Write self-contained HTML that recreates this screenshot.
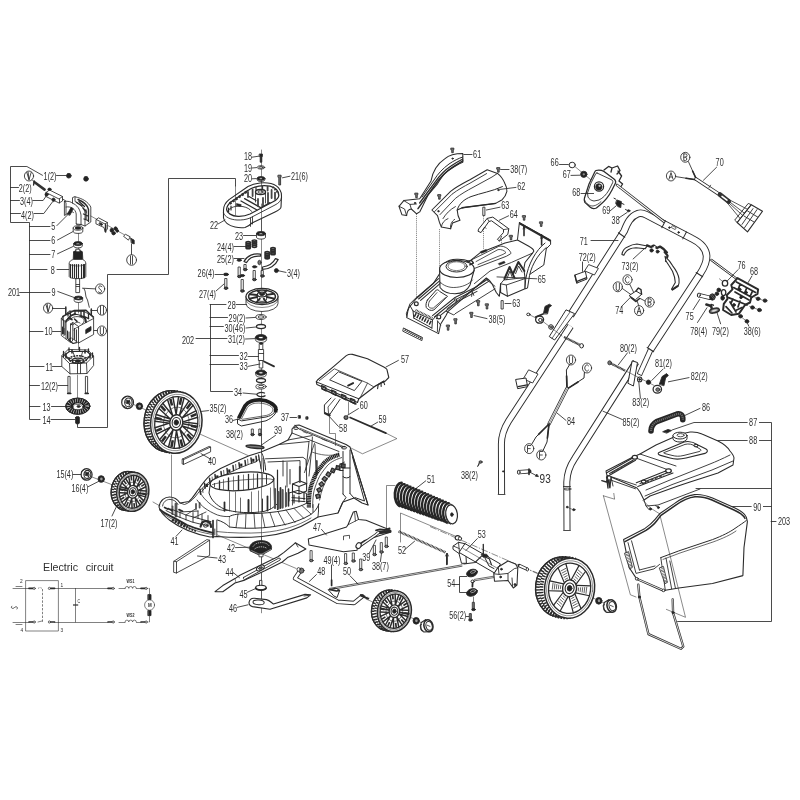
<!DOCTYPE html>
<html><head><meta charset="utf-8"><title>Exploded view</title>
<style>
html,body{margin:0;padding:0;background:#fff;}
body{width:800px;height:800px;overflow:hidden;font-family:"Liberation Sans",sans-serif;}
svg{display:block}
svg *{vector-effect:none}
.d{stroke:#2b2b2b;stroke-width:.85;fill:none;stroke-linecap:round;stroke-linejoin:round}
.d text{stroke:none;fill:#2e2e2e;font-family:"Liberation Sans",sans-serif}
.w{fill:#fff}
.k{fill:#222}
.g{fill:#777}
.t{stroke-width:.55}
.b{stroke-width:1.3}
.dash{stroke-width:.6;stroke:#3a3a3a}
[stroke-dasharray]{stroke-linecap:butt}
</style></head><body>
<svg width="800" height="800" viewBox="0 0 800 800">
<rect width="800" height="800" fill="#fff"/>
<g class="d" opacity=".999">
<!-- p_a_motor -->
<polyline points="42.5 175.3 26.9 166.5 10.5 166.5 10.5 222.5 29.5 222.5 29.5 419.5 40 419.5"/><polyline points="10.4 187.5 18.5 187.5"/><polyline points="10.4 200.5 19.5 200.5"/><polyline points="10.4 213.5 20.5 213.5"/><polyline points="32.8 200.5 43.1 200.5 46.9 195"/><polyline points="34 213.5 43.8 213.5 52.5 201.9"/><polyline points="29.4 226.5 50 226.5"/><polyline points="29.4 240.5 50 240.5"/><polyline points="29.4 254.5 50 254.5"/><polyline points="29.4 269.5 47 269.5"/><polyline points="29.4 292.5 50 292.5"/><polyline points="29.4 331.5 43 331.5"/><polyline points="29.4 366.5 44 366.5"/><polyline points="29.4 385.5 39.5 385.5"/><polyline points="29.4 406.5 40 406.5"/><polyline points="19.6 292.5 29.4 292.5"/><text transform="translate(43.6 180) scale(0.66 1)" font-size="11">1(2)</text><text transform="translate(18.8 192) scale(0.66 1)" font-size="11">2(2)</text><text transform="translate(20 205) scale(0.66 1)" font-size="11">3(4)</text><text transform="translate(21 218.6) scale(0.66 1)" font-size="11">4(2)</text><text transform="translate(51.3 230) scale(0.66 1)" font-size="11">5</text><text transform="translate(51.3 244.4) scale(0.66 1)" font-size="11">6</text><text transform="translate(51.3 258.2) scale(0.66 1)" font-size="11">7</text><text transform="translate(50.8 273.6) scale(0.66 1)" font-size="11">8</text><text transform="translate(51.6 295.6) scale(0.66 1)" font-size="11">9</text><text transform="translate(8 295.6) scale(0.66 1)" font-size="11">201</text><text transform="translate(44.4 335.4) scale(0.66 1)" font-size="11">10</text><text transform="translate(45.6 370.8) scale(0.66 1)" font-size="11">11</text><text transform="translate(41 390.4) scale(0.66 1)" font-size="11">12(2)</text><text transform="translate(42.4 410.8) scale(0.66 1)" font-size="11">13</text><text transform="translate(42.4 424) scale(0.66 1)" font-size="11">14</text><polyline points="56.5 175.5 67 175.5"/><polyline points="56.9 225.6 70 212.5"/><polyline points="57.5 240 73.5 231.3"/><polyline points="57.5 253.8 73.5 246.3"/><polyline points="57 269.5 69 269.5"/><polyline points="57.8 291.5 74.4 297.6"/><polyline points="52.5 331.5 61.3 331.5"/><polyline points="52.5 366.5 62 366.5"/><polyline points="58 385.5 68 385.5"/><polyline points="51.5 406.5 66 406.5"/><polyline points="51 419.5 75 419.5"/><ellipse cx="68.8" cy="175.8" rx="2.3" ry="2.3" class="k"/><ellipse cx="86" cy="178.9" rx="2.3" ry="2.3" class="k"/><polyline points="67.6 173.8 70 173.8"/><polyline points="84.8 176.9 87.2 176.9"/><ellipse cx="29" cy="176" rx="4.6" ry="4.97" fill="#fff"/><polyline points="26.8 172.4 29 179.8 31.2 172.4"/><polyline points="28.1 172.1 29 179.4"/><polyline points="32.5 180 35.6 183.6"/><path d="M34.6 182.2 L44.6 189.6" stroke-width="2.6" stroke="#333"/><path d="M34.2 181 L33.6 185" stroke-width="1.4"/><polygon points="46 192.5 49.5 190 62.5 196.5 62.5 201 59 203 46 196.5" class="w"/><polyline points="46 192.5 59 199 62.5 196.5"/><polyline points="59.5 199 59.5 203"/><ellipse cx="49.5" cy="189.3" rx="1.6" ry="1.2" class="k"/><ellipse cx="46.6" cy="194.5" rx="1.6" ry="1.6" class="k"/><ellipse cx="53.5" cy="199.8" rx="1.5" ry="1.8" class="k"/><polyline points="62.5 199 66 201"/><path d="M64.4 201.5 L64.4 215.5 L66 214.5 L66 203 Z"/><path d="M72.5 198 L72.5 203.2 C77 205 80 209 81 215 L81 224.5 L85 226 L90.8 222 L90.8 207 C88 202 83 198.5 75 196.8 Z" class="w"/><path d="M64.4 201.5 C68 200.8 71 201.6 72.5 203.2"/><path d="M66 207 C71 206 75.5 209 76.2 214 L76.2 224 L81 224.5"/><path d="M66 214.5 C69 212 71.5 210.5 73.5 212.5"/><path d="M76.2 224 C77.5 225.3 79.8 225.3 81 224.5"/><path d="M75 196.8 L75 201.5 C80 203.5 84.5 208 85 213 L85 226"/><path d="M78 199.5 C83 201.5 87.5 205 88.5 209.5 L88.5 221.5" stroke-width="1.4"/><path d="M76.5 202.5 L82 206 M79 201.5 L84.5 206.5 M83 208 L86.5 212 M86 210 L86 219 M83.5 214 L88 216 M84 219 L88 220.5" stroke-width="1.3"/><path d="M67.5 214 L71 207.5 L73.2 208.8 L70 215 Z" class="k"/><polyline points="90.8 216 133.8 240" class="t"/><polygon points="96.3 219.5 98.5 217.8 107.4 222.5 107.4 229 105 231.5 104 227.5 96.3 224" class="w"/><polyline points="96.3 219.5 105 224 107.4 222.5"/><polyline points="105.5 224 105.5 231.5"/><rect x="99.5" y="223.4" width="3" height="1.4" class="k" transform="rotate(28 101 224)"/><path d="M105.6 225 L105.6 232" stroke-width="1.6"/><ellipse cx="111.8" cy="230.3" rx="1.7" ry="2" class="k"/><ellipse cx="115.6" cy="228.6" rx="1.6" ry="1.8" class="k"/><ellipse cx="113.6" cy="233.2" rx="1.7" ry="1.7" class="k"/><ellipse cx="117.2" cy="230.8" rx="1.3" ry="1.5" class="k"/><polygon points="123.8 236 125.5 234.3 130.2 236.8 128.6 239.8" class="w"/><path d="M131 238.5 L134.2 240.3 L134.2 244 L131.6 243 Z" class="k"/><polyline points="131.5 244 131.5 255"/><ellipse cx="131.6" cy="260" rx="4.9" ry="5.29" fill="#fff"/><polyline points="130.5 256 130.5 264"/><polyline points="132.5 256 132.5 264"/><path d="M73.2 228 L73.2 231.2 A4.8 2.2 0 0 0 82.8 231.2 L82.8 228" class="w"/><ellipse cx="78" cy="228" rx="4.8" ry="2.2" class="w"/><ellipse cx="78" cy="228" rx="3" ry="1.2" class="k"/><path d="M73.7 243.6 L73.7 246 A4.3 2 0 0 0 82.3 246 L82.3 243.6" class="w"/><ellipse cx="78" cy="243.6" rx="4.3" ry="2" class="k"/><ellipse cx="78" cy="243.9" rx="2" ry="0.8" class="w"/><polyline points="78.5 233.6 78.5 241.5" class="t"/><polyline points="78.5 248 78.5 251" class="t"/><path d="M73.6 252 L73.2 259.5 L82.8 259.5 L82.4 252 A4.4 1.5 0 0 0 73.6 252 Z" class="k"/><rect x="76.2" y="249.2" width="3.6" height="2.6" class="w"/><path d="M73.2 259.5 C69.5 260.5 69.2 262.5 69.2 264 L69.2 276.5 A8.3 2.2 0 0 0 85.8 276.5 L85.8 264 C85.8 262.5 85.5 260.5 82.8 259.5 Z" class="w"/><polyline points="70.5 264.5 70.5 277.6" stroke-width="1.1"/><polyline points="72.5 264.5 72.5 277.6" stroke-width="1.1"/><polyline points="74.5 264.5 74.5 277.6" stroke-width="1.1"/><polyline points="76.5 264.5 76.5 278.5" stroke-width="1.1"/><polyline points="78.5 264.5 78.5 278.5" stroke-width="1.1"/><polyline points="81.5 264.5 81.5 278.5" stroke-width="1.1"/><polyline points="83.5 264.5 83.5 277.6" stroke-width="1.1"/><polyline points="84.5 264.5 84.5 277.6" stroke-width="1.1"/><path d="M69.2 264 A8.3 2 0 0 0 85.8 264" class="t"/><rect x="76.2" y="278.6" width="3.4" height="14" class="w"/><polyline points="76.2 284.5 79.6 284.5"/><polyline points="76.2 286.5 79.6 286.5"/><ellipse cx="100.1" cy="288.9" rx="4.6" ry="4.97" fill="#fff"/><path d="M101.9 286.7 c-3 -2.5 -4.5 1 -1.8 2.6 c2.8 1.6 1.2 5 -1.8 2.6"/><polyline points="95.5 288.9 82.5 288.2"/><path d="M84 288.5 C86.5 292 84.5 296 87.5 300 L89.3 307.3"/><path d="M74.2 298 L74.2 300.6 A4.2 1.9 0 0 0 82.6 300.6 L82.6 298" class="w"/><ellipse cx="78.4" cy="298" rx="4.2" ry="1.9" class="k"/><ellipse cx="78.4" cy="298.2" rx="2" ry="0.8" class="w"/><ellipse cx="48.1" cy="308.1" rx="4.6" ry="4.97" fill="#fff"/><polyline points="45.9 304.5 48.1 311.9 50.3 304.5"/><polyline points="47.2 304.2 48.1 311.5"/><polyline points="52.7 308.5 65.8 308.5"/><path d="M65.8 307 L65.8 314" stroke-width="1.5"/><ellipse cx="101.9" cy="310.2" rx="4.6" ry="4.97" fill="#fff"/><polyline points="100.5 306.2 100.5 314.2"/><polyline points="103.5 306.2 103.5 314.2"/><polyline points="97.3 310.5 91 310.5"/><path d="M91.3 309 L91.3 316" stroke-width="1.5"/><ellipse cx="101.9" cy="330.9" rx="4.6" ry="4.97" fill="#fff"/><path d="M100.3 327.5 v5.5 a1.6 1.6 0 0 0 3.2 0 v-5.5"/><polyline points="97.3 330.5 92.8 330.5"/><path d="M61.3 318.5 L61.3 335.5 L70.5 342.5 L72.5 341 L72.5 338.5 L78.5 343 L93.6 334.5 L93.6 316.5 L84 311.5 L70 311 Z" class="w"/><path d="M61.3 318.5 L66 322 L66 338.8 M66 322 L70.5 319 M70.5 324 L70.5 341.5 M70.5 324 L72.8 322.5 M72.8 338.5 L72.8 322.5 L78.5 326.5 L78.5 343 M78.5 326.5 L93.6 318.5"/><path d="M66 322 C67 317 72 314 77 314.5 C83 315 87 318.5 86 322.5" stroke-width="1.2"/><path d="M70.5 319.5 C72 316.5 78 315.5 82.5 318 C85 319.5 84.5 322.5 82 324"/><path d="M63 316.5 L63 320 M68 312.5 L68 316 M88.5 314 L88.5 318 M75 311 L75 314.5 M81 311.5 L81 315" stroke-width="1.3"/><path d="M72.8 325 C75 322 78 321.5 80 323 M74 330 C76 327 78 327 78.5 328"/><path d="M86 329.5 L91 326.5 L91 330.5 L86 333.5 Z" class="k"/><path d="M62.5 327 L62.5 334 M64 328.5 L64 335.5 M67.5 331 L67.5 338.5 M69 332 L69 339.5" stroke-width="1"/><path d="M71 338 L68.5 339.8 L73 343.5 L76.5 342.6" stroke-width="1.2"/><path d="M63 316.4 L74 310.6 L86 310.2 L93 317 M66 320.6 L70 317.6 L72 319.6 M70 311.6 L70.6 316 L75 313.6 M84 311.5 L84 316.4 L88.6 318.6 M80 316 C84 316.6 86 319 85.6 322 M74.5 319 L77 321.4" stroke-width="1.5"/><path d="M63.4 320.4 L63.4 333.6 M65 321.6 L65 334.6 M70.8 325 L72.4 324 M74.4 328.4 L74.4 339.4 M76.4 329.8 L76.4 341" stroke-width="1"/><polyline points="78.5 302.6 78.5 313" class="t"/><polyline points="78.5 343.5 78.5 352" class="t"/><path d="M61.8 356 L61.8 366.5 L70 373.8 L87 373.5 L93.6 365.5 L93.6 356 L88 350 L68.5 349.5 Z" class="w"/><path d="M61.8 356 L69.5 363.5 L86.5 363 L93.6 356 M69.5 363.5 L70 373.8 M86.5 363 L87 373.5"/><path d="M64.5 355 L70 360.5 L86 360 L91 355 L87 351.5 L69.5 351.5 Z" stroke-width="1.2"/><ellipse cx="77.8" cy="360.8" rx="5.6" ry="2.6" stroke-width="1.3"/><ellipse cx="77.8" cy="361" rx="2.6" ry="1.2" class="k"/><path d="M67 357 L72 359 M83.5 359 L89 356.5 M73 352 L75 357.5 M82.5 352 L81 357.5"/><path d="M63.5 351.5 L63.5 357 M69 348 L69 351 M79.5 347.5 L79.5 351 M88.5 349 L88.5 352 M92.5 353 L92.5 357" stroke-width="1.3"/><polyline points="77.5 364 77.5 373.5"/><polyline points="80.5 364 80.5 373.5"/><ellipse cx="77.8" cy="359.4" rx="8.6" ry="3.6" stroke-width="1.5" stroke-dasharray="2 0.8"/><path d="M66 353.6 L66 358 M90 353.6 L90 358 M72 350 L72 353 M85 350 L85 353" stroke-width="1.6"/><rect x="68.3" y="376.4" width="1.8" height="16.6" class="w"/><path d="M67.6 393.4 h3.2" stroke-width="1.5"/><rect x="85.8" y="376.4" width="1.8" height="16.6" class="w"/><path d="M85.1 393.4 h3.2" stroke-width="1.5"/><polyline points="77.5 375 77.5 398" class="t"/><ellipse cx="77.8" cy="406.2" rx="12.2" ry="8.2" class="k"/><ellipse cx="77.8" cy="406.2" rx="9.4" ry="6" stroke="#e8e8e8" stroke-width="4.2" stroke-dasharray="0.55 1.7" fill="none"/><ellipse cx="77.8" cy="406.2" rx="12" ry="8" stroke="#222" stroke-width="0.9" fill="none"/><ellipse cx="78" cy="407" rx="5" ry="2.8" class="w" stroke-width="0.8"/><ellipse cx="78.6" cy="406.4" rx="1.6" ry="1" class="k"/><path d="M73.6 405.6 A4.6 2.6 0 0 1 82.6 405.6" stroke="#fff" stroke-width="0.7"/><path d="M75.6 417.4 L75.6 423 A1.9 0.9 0 0 0 79.4 423 L79.4 417.4 A1.9 0.9 0 0 0 75.6 417.4 Z" class="k"/><polyline points="77.5 424 77.5 427.5 107.5 427.5 107.5 274.5 168.5 274.5 168.5 178.5 235.5 178.5 235.5 186"/>
<!-- p_b_gear -->
<polyline points="261.5 150 261.5 600" class="t dash"/><text transform="translate(244 160.4) scale(0.66 1)" font-size="11">18</text><polyline points="252 157.2 258.6 156.2"/><path d="M259.6 154 h2.8 v2.6 h-0.6 v5.6 h-1.6 v-5.6 h-0.6 Z" class="k"/><text transform="translate(244 172) scale(0.66 1)" font-size="11">19</text><polyline points="252 168 256.5 167.6"/><ellipse cx="261" cy="167.4" rx="3.8" ry="1.7" class="w"/><ellipse cx="261" cy="167.4" rx="2.09" ry="0.85"/><text transform="translate(244 182.4) scale(0.66 1)" font-size="11">20</text><polyline points="252 178.8 256 178.6"/><path d="M257.1 178.4 v1.2 a3.9 1.9 0 0 0 7.8 0 v-1.2" class="w"/><ellipse cx="261" cy="178.4" rx="3.9" ry="1.9" class="k"/><ellipse cx="261" cy="178.6" rx="1.75" ry="0.8" class="w"/><text transform="translate(291 180) scale(0.66 1)" font-size="11">21(6)</text><polyline points="290 176.2 282.5 177.8"/><path d="M278.3 175.2 h2.8 v2 h-0.5 v7.8 h-1.8 v-7.8 h-0.5 Z" class="g"/><path d="M223.5 210 L223.5 218 C224.5 222.5 229 225.6 235 227 C238.5 227.8 242 228 245 227.5 C248 226.6 250 225 252 223 L275 212 C279 210 281 208.6 281 207 L281.5 196 C281.6 193.5 281 191.6 280 190 C278 186.4 275 184.4 271 183.5 C267.6 182.8 264 182.6 260 183 C255 183.6 251.6 184.6 248 186.5 L229 199.6 C225.4 202.6 223.5 206 223.5 210 Z" class="w" stroke-width="1.1"/><path d="M223.5 213 C225 217 230 219.6 237 220 C242 220.2 246 219.6 250 218 L275 205 C279 203 281 200.6 281.5 198" stroke-width="0.9"/><path d="M226.6 209.6 C227 213 231.6 216 238 216.4 C243 216.6 246.6 215.6 250 214 L272.6 202 C277 199.6 278.8 197.6 278.8 195.4 C278.6 191 275 187.4 270 186.2 C265 185.2 259 185.6 254 187.4 C251.6 188.2 249.6 189.2 248 190.4 L231.6 201.6 C228.4 204 226.6 206.6 226.6 209.6 Z" stroke-width="1.3"/><polyline points="250.5 218 250.5 226.4"/><polyline points="252.5 216.8 252.5 224"/><path d="M241 201 L257 210 M244.6 198.6 L260.6 207.6" stroke-width="1.3"/><ellipse cx="260.5" cy="192" rx="5" ry="2.5" class="w" stroke-width="1.4"/><ellipse cx="260.5" cy="192" rx="2.6" ry="1.2" stroke-width="0.9"/><polyline points="255.5 192 255.5 202"/><polyline points="265.5 192 265.5 203"/><path d="M252.6 189.6 L252.6 196 M258 199 L258 206 M263 198 L263 205.6 M268 193 L268 203 M271.6 190 L271.6 198 M275 192.6 L275 199 M248 192 L248 197 M267.6 186.6 L267.6 190.6" stroke="#444" stroke-width="1.8"/><path d="M249 196.6 L256 200.6 M262 207 L270 202.6 M256 187.6 L256 190 M262.6 186.4 L262.6 189.6" stroke-width="1.1"/><path d="M229.6 203.6 L247 191.4" stroke="#333" stroke-width="2.6" stroke-dasharray="2.2 1.5"/><path d="M272.6 187 L278 192.6" stroke="#333" stroke-width="2" stroke-dasharray="1.6 1.2"/><path d="M228 211 C230 207 236 205.4 243 206.6 C247 207.4 250 209 251.6 211.4" stroke-width="0.9"/><path d="M236.6 203.6 l4.6 1 l-0.4 2 l-4.6 -1 Z" class="k" stroke-width="0.6"/><path d="M231 206 L231 210 M228.6 208 L228.6 212" stroke-width="1.2"/><polyline points="235.5 186 235.5 215" class="t"/><polyline points="261.5 180 261.5 192" class="t"/><polyline points="261.5 204 261.5 231" class="t"/><text transform="translate(210 229) scale(0.66 1)" font-size="11">22</text><polyline points="218 224 225 220"/><text transform="translate(235 239.6) scale(0.66 1)" font-size="11">23</text><polyline points="243.5 235.5 256 235.5"/><path d="M256.5 233.6 v3.4 a4.5 2.1 0 0 0 9 0 v-3.4" class="w"/><ellipse cx="261" cy="233.6" rx="4.5" ry="2.1" class="k"/><ellipse cx="261" cy="233.8" rx="2.02" ry="0.88" class="w"/><text transform="translate(217 251) scale(0.66 1)" font-size="11">24(4)</text><polyline points="234 246.5 246 246.5"/><ellipse cx="248.2" cy="242.5" rx="2.2" ry="1.1" stroke-width="1.55"/><ellipse cx="248.2" cy="244.25" rx="2.2" ry="1.1" stroke-width="1.55"/><ellipse cx="248.2" cy="246" rx="2.2" ry="1.1" stroke-width="1.55"/><ellipse cx="248.2" cy="247.75" rx="2.2" ry="1.1" stroke-width="1.55"/><ellipse cx="254.4" cy="241.1" rx="2.2" ry="1.1" stroke-width="1.55"/><ellipse cx="254.4" cy="242.85" rx="2.2" ry="1.1" stroke-width="1.55"/><ellipse cx="254.4" cy="244.6" rx="2.2" ry="1.1" stroke-width="1.55"/><ellipse cx="254.4" cy="246.35" rx="2.2" ry="1.1" stroke-width="1.55"/><ellipse cx="267.2" cy="252.5" rx="2.2" ry="1.1" stroke-width="1.55"/><ellipse cx="267.2" cy="254.25" rx="2.2" ry="1.1" stroke-width="1.55"/><ellipse cx="267.2" cy="256" rx="2.2" ry="1.1" stroke-width="1.55"/><ellipse cx="267.2" cy="257.75" rx="2.2" ry="1.1" stroke-width="1.55"/><ellipse cx="273" cy="248.5" rx="2.2" ry="1.1" stroke-width="1.55"/><ellipse cx="273" cy="250.25" rx="2.2" ry="1.1" stroke-width="1.55"/><ellipse cx="273" cy="252" rx="2.2" ry="1.1" stroke-width="1.55"/><ellipse cx="273" cy="253.75" rx="2.2" ry="1.1" stroke-width="1.55"/><text transform="translate(217 263) scale(0.66 1)" font-size="11">25(2)</text><polyline points="234 258.5 244 258.5"/><path d="M244 261.5 C247 255.5 254 253 260.5 254.2 L260.5 256.2 C254.5 255.6 249 257.8 246.6 262.6 Z" class="w" stroke-width="1.2"/><path d="M262.5 267 C268 266.5 273 263.5 275.5 258.6 L278.2 259.6 C275.6 265.6 269 269.3 262.5 269.3 Z" class="w" stroke-width="1.2"/><ellipse cx="239.2" cy="260.2" rx="2.2" ry="1.1" class="k"/><ellipse cx="254.6" cy="266.8" rx="2.2" ry="1.1" class="k"/><ellipse cx="259.5" cy="262.5" rx="1.6" ry="2.2" class="g"/><rect x="238.5" y="267" width="1.8" height="9.5" class="w"/><ellipse cx="239.4" cy="276.5" rx="1.8" ry="1.2" fill="#444" stroke-width="1"/><rect x="244.3" y="264.5" width="1.8" height="5.1" class="w"/><ellipse cx="245.2" cy="269.6" rx="1.8" ry="1.2" fill="#444" stroke-width="1"/><rect x="253.5" y="270.5" width="1.8" height="9.1" class="w"/><ellipse cx="254.4" cy="279.6" rx="1.8" ry="1.2" fill="#444" stroke-width="1"/><rect x="261.5" y="270.5" width="1.8" height="5.5" class="w"/><ellipse cx="262.4" cy="276" rx="1.8" ry="1.2" fill="#444" stroke-width="1"/><rect x="225.1" y="278.5" width="1.8" height="9.7" class="w"/><ellipse cx="226" cy="288.2" rx="1.8" ry="1.2" fill="#444" stroke-width="1"/><rect x="241.5" y="279.5" width="1.8" height="11.5" class="w"/><ellipse cx="242.4" cy="291" rx="1.8" ry="1.2" fill="#444" stroke-width="1"/><ellipse cx="242.4" cy="275.6" rx="2.2" ry="1.1" class="k"/><text transform="translate(197.6 277) scale(0.66 1)" font-size="11">26(4)</text><polyline points="215 274.5 223 274.5"/><ellipse cx="226" cy="274.4" rx="2.5" ry="1.3" class="k"/><text transform="translate(287 277) scale(0.66 1)" font-size="11">3(4)</text><polyline points="286 272.4 278.5 270.8"/><ellipse cx="276.4" cy="270.6" rx="2" ry="2" class="k"/><text transform="translate(199 298) scale(0.66 1)" font-size="11">27(4)</text><polyline points="216 291 224 284"/><path d="M246 296.5 L246 303.5 A16 8 0 0 0 278 303.5 L278 296.5" class="w"/><ellipse cx="262" cy="296.5" rx="16" ry="8.2" class="w" stroke-width="1.2"/><ellipse cx="262" cy="296.5" rx="13.4" ry="6.6" stroke-width="1.5"/><path d="M246 299.5 A16 8 0 0 0 278 299.5" class="t"/><ellipse cx="262" cy="294.5" rx="4.6" ry="2.4" class="w" stroke-width="1.2"/><ellipse cx="262" cy="294.5" rx="2.2" ry="1.1" class="k"/><path d="M257.4 294.5 L257.4 299 A4.6 2.4 0 0 0 266.6 299 L266.6 294.5"/><polyline points="266.89 296.96 274.22 298.69" stroke-width="1.9"/><polyline points="263.78 298.63 266.45 302.51" stroke-width="1.9"/><polyline points="259.8 298.54 256.51 302.3" stroke-width="1.9"/><polyline points="257.11 296.96 249.78 298.69" stroke-width="1.9"/><polyline points="257.11 295.04 249.78 294.31" stroke-width="1.9"/><polyline points="260.22 293.37 257.55 290.49" stroke-width="1.9"/><polyline points="263.78 293.37 266.45 290.49" stroke-width="1.9"/><polyline points="266.71 294.82 273.78 293.8" stroke-width="1.9"/><text transform="translate(227.6 309) scale(0.66 1)" font-size="11">28</text><polyline points="210 304.5 226 304.5"/><polyline points="236 304.5 246.5 304.5"/><polyline points="210.5 304.6 210.5 391.5 232.5 391.5"/><polyline points="210 317.5 227.5 317.5"/><polyline points="210 326.5 223.4 326.5"/><polyline points="196 338.5 227 338.5"/><polyline points="210 355.5 238.5 355.5"/><polyline points="210 364.5 238.5 364.5"/><text transform="translate(228.6 321.6) scale(0.66 1)" font-size="11">29(2)</text><polyline points="246 318 255.5 317.4"/><ellipse cx="261" cy="317" rx="5.2" ry="2.5" class="w"/><ellipse cx="261" cy="317" rx="2.86" ry="1.25"/><text transform="translate(224.4 331.6) scale(0.66 1)" font-size="11">30(46)</text><polyline points="246 328 256 327"/><ellipse cx="261" cy="326.6" rx="4.5" ry="2.1" class="w" stroke-width="1.3"/><text transform="translate(182 343.6) scale(0.66 1)" font-size="11">202</text><text transform="translate(228 343) scale(0.66 1)" font-size="11">31(2)</text><polyline points="245.5 339 255 338.6"/><path d="M255.4 337.4 v2.2 a5.6 2.9 0 0 0 11.2 0 v-2.2" class="w"/><ellipse cx="261" cy="337.4" rx="5.6" ry="2.9" class="k"/><ellipse cx="261" cy="337.6" rx="2.52" ry="1.22" class="w"/><rect x="259.6" y="343.5" width="3.2" height="6" class="w"/><rect x="258.8" y="349.5" width="4.8" height="11" class="w"/><rect x="259.6" y="360.5" width="3.2" height="7.5" class="w"/><ellipse cx="261.2" cy="343.6" rx="1.6" ry="0.8" class="k"/><polyline points="258.8 353.5 263.6 353.5"/><text transform="translate(239.6 360.4) scale(0.66 1)" font-size="11">32</text><polyline points="248 356.5 258.4 356.5"/><text transform="translate(239.6 370) scale(0.66 1)" font-size="11">33</text><polyline points="248 366.4 260 364"/><path d="M264 361.5 L274 366.4" stroke-width="1.8"/><path d="M255.7 372.6 v2 a5.3 2.7 0 0 0 10.6 0 v-2" class="w"/><ellipse cx="261" cy="372.6" rx="5.3" ry="2.7" class="k"/><ellipse cx="261" cy="372.8" rx="2.38" ry="1.13" class="w"/><ellipse cx="261" cy="380.6" rx="4.5" ry="2.1" class="w" stroke-width="1.3"/><ellipse cx="261" cy="386.6" rx="5.2" ry="2.5" class="w"/><ellipse cx="261" cy="386.6" rx="2.86" ry="1.25"/><text transform="translate(234 396.4) scale(0.66 1)" font-size="11">34</text><polyline points="243 393 256.5 394.2"/><path d="M264.5 393 A4.6 2 0 1 0 265 395.8" stroke-width="1.3"/><path d="M237.5 419.3 L237.5 423.8 L241.3 426 L266 420.8 C270 419 273 416.6 275 414 L277.6 409 L274.3 412.5 C272 415 269.6 416.2 266 417 L242 420.8 Z" class="w" stroke-width="1"/><path d="M238.6 418.4 L245 405.8 C247 403.2 249 402 251 401.3 C254 400 257 399.7 260 399.8 C264 400 268 401.2 270.5 402.8 C273.6 404.6 275.4 406.2 275.8 408 L275.6 412.4" stroke="#1f1f1f" stroke-width="3.7" stroke-linecap="butt"/><path d="M241.6 418.6 L247.4 407.4 C249.6 405 252 403.8 255 403.2 C260 402.6 266 403.6 269.6 405.6 C272 407 273 408.4 273 410 C272.4 412.4 270 414.6 266.6 415.4 L243 419.2 Z" class="w" stroke-width="0.7"/><polyline points="261.5 396 261.5 447" class="t"/><text transform="translate(225 423) scale(0.66 1)" font-size="11">36</text><polyline points="233 420.5 238 419"/><text transform="translate(209.5 412) scale(0.66 1)" font-size="11">35(2)</text><polyline points="208.5 410.6 201.5 411.4"/><text transform="translate(281 421) scale(0.66 1)" font-size="11">37</text><polyline points="290 417.5 296.5 417.5"/><rect x="298.6" y="415.6" width="1.8" height="2.6" class="k"/><rect x="306.2" y="416.8" width="1.8" height="2.4" class="k"/><text transform="translate(226 437.5) scale(0.66 1)" font-size="11">38(2)</text><rect x="251.7" y="429" width="1.6" height="5.6" class="w"/><ellipse cx="252.5" cy="434.6" rx="1.6" ry="1.2" fill="#444" stroke-width="1"/><rect x="259.2" y="429" width="1.6" height="5.6" class="w"/><ellipse cx="260" cy="434.6" rx="1.6" ry="1.2" fill="#444" stroke-width="1"/><text transform="translate(274 434) scale(0.66 1)" font-size="11">39</text><polyline points="275.5 435.4 261.5 445"/><ellipse cx="255" cy="446.8" rx="9" ry="1.5" transform="rotate(5 255 446.8)" stroke-width="1.4" class="g"/>
<!-- p_c_wheels -->
<polyline points="133 404.2 248 455.5" class="t"/><polyline points="171.5 455 171.5 504" class="t"/><ellipse cx="169.7" cy="421.3" rx="25.6" ry="30.8" transform="rotate(8 169.7 421.3)" class="w" stroke-width="1.1"/><ellipse cx="171.15" cy="421.56" rx="25.3" ry="30.3" transform="rotate(8 171.15 421.56)" stroke="#2a2a2a" stroke-width="2.772" stroke-dasharray="1.5 1.3" fill="none"/><ellipse cx="173.92" cy="422.07" rx="25.5" ry="30.5" transform="rotate(8 173.92 422.07)" stroke="#2a2a2a" stroke-width="2.772" stroke-dasharray="1.5 1.3" stroke-dashoffset="1.4" fill="none"/><ellipse cx="169.7" cy="421.3" rx="25.6" ry="30.8" transform="rotate(8 169.7 421.3)" stroke-width="1.3"/><ellipse cx="176.3" cy="422.5" rx="25.6" ry="30.8" transform="rotate(8 176.3 422.5)" class="w" stroke-width="1.5"/><ellipse cx="176.3" cy="422.5" rx="21.5" ry="25.87" transform="rotate(8 176.3 422.5)" stroke-width="1.3"/><ellipse cx="176.3" cy="422.5" rx="23.55" ry="28.34" transform="rotate(8 176.3 422.5)" stroke-width="0.5"/><g transform="rotate(8 176.3 422.5)"><polyline points="197.38 427.64 182.7 425.14 195.38 433.87" stroke-width="1.45"/><polyline points="188.79 432.6 193.61 436.5" stroke-width="2.5600000000000005" stroke-linecap="butt"/><polyline points="192.42 439.63 180.74 428.63 188.09 443.82" stroke-width="1.45"/><polyline points="182.92 438.76 185.47 445.04" stroke-width="2.5600000000000005" stroke-linecap="butt"/><polyline points="183.14 447.03 177.6 430.48 177.65 448.06" stroke-width="1.45"/><polyline points="175.27 440.57 174.88 447.54" stroke-width="2.5600000000000005" stroke-linecap="butt"/><polyline points="172.03 447.86 174.11 430.19 166.85 445.45" stroke-width="1.45"/><polyline points="167.9 437.53 164.66 443.33" stroke-width="2.5600000000000005" stroke-linecap="butt"/><polyline points="162.06 441.89 171.21 427.85 158.58 436.69" stroke-width="1.45"/><polyline points="162.78 430.47 157.57 433.54" stroke-width="2.5600000000000005" stroke-linecap="butt"/><polyline points="155.91 430.73 169.67 424.06 155.05 424.13" stroke-width="1.45"/><polyline points="161.28 421.27 155.49 420.79" stroke-width="2.5600000000000005" stroke-linecap="butt"/><polyline points="155.22 417.36 169.9 419.86 157.22 411.13" stroke-width="1.45"/><polyline points="163.81 412.4 158.99 408.5" stroke-width="2.5600000000000005" stroke-linecap="butt"/><polyline points="160.18 405.37 171.86 416.37 164.51 401.18" stroke-width="1.45"/><polyline points="169.68 406.24 167.13 399.96" stroke-width="2.5600000000000005" stroke-linecap="butt"/><polyline points="169.46 397.97 175 414.52 174.95 396.94" stroke-width="1.45"/><polyline points="177.33 404.43 177.72 397.46" stroke-width="2.5600000000000005" stroke-linecap="butt"/><polyline points="180.57 397.14 178.49 414.81 185.75 399.55" stroke-width="1.45"/><polyline points="184.7 407.47 187.94 401.67" stroke-width="2.5600000000000005" stroke-linecap="butt"/><polyline points="190.54 403.11 181.39 417.15 194.02 408.31" stroke-width="1.45"/><polyline points="189.82 414.53 195.03 411.46" stroke-width="2.5600000000000005" stroke-linecap="butt"/><polyline points="196.69 414.27 182.93 420.94 197.55 420.87" stroke-width="1.45"/><polyline points="191.32 423.73 197.11 424.21" stroke-width="2.5600000000000005" stroke-linecap="butt"/><polyline points="154.8 421.5 197.8 423.5" stroke-width="1.7"/><ellipse cx="176.3" cy="422.5" rx="12.8" ry="15.4" stroke-width="0.6"/></g><ellipse cx="176.3" cy="422.5" rx="6.5" ry="7.82" transform="rotate(8 176.3 422.5)" class="w" stroke-width="1.4"/><ellipse cx="176.3" cy="422.5" rx="4.16" ry="5" transform="rotate(8 176.3 422.5)" stroke-width="1.1"/><ellipse cx="176.3" cy="422.5" rx="2.18" ry="2.63" transform="rotate(8 176.3 422.5)" class="k"/><ellipse cx="127.6" cy="402.4" rx="5.89" ry="6.2" class="w" stroke-width="1.2"/><ellipse cx="128.4" cy="402.4" rx="3.72" ry="4.34" stroke-width="1.1"/><path d="M126.6 400 l2.6 1 l-0.6 3 l-2.4 -0.8 Z" class="k"/><polyline points="122.02 399.3 125.74 396.82"/><polyline points="122.95 405.5 126.98 407.98"/><path d="M129.2 400.2 a3 4 0 0 1 0 5" stroke-width="1.2"/><ellipse cx="139.4" cy="406.2" rx="3.2" ry="3.36" class="k"/><ellipse cx="139.6" cy="406.2" rx="1.28" ry="1.44" fill="#999" stroke="none"/><polyline points="92 477 118 487" class="t"/><ellipse cx="127.2" cy="491" rx="16" ry="19.6" transform="rotate(8 127.2 491)" class="w" stroke-width="1.1"/><ellipse cx="128.43" cy="491.18" rx="15.7" ry="19.1" transform="rotate(8 128.43 491.18)" stroke="#2a2a2a" stroke-width="2.352" stroke-dasharray="1.5 1.3" fill="none"/><ellipse cx="130.78" cy="491.51" rx="15.9" ry="19.3" transform="rotate(8 130.78 491.51)" stroke="#2a2a2a" stroke-width="2.352" stroke-dasharray="1.5 1.3" stroke-dashoffset="1.4" fill="none"/><ellipse cx="127.2" cy="491" rx="16" ry="19.6" transform="rotate(8 127.2 491)" stroke-width="1.3"/><ellipse cx="132.8" cy="491.8" rx="16" ry="19.6" transform="rotate(8 132.8 491.8)" class="w" stroke-width="1.5"/><ellipse cx="132.8" cy="491.8" rx="13.44" ry="16.46" transform="rotate(8 132.8 491.8)" stroke-width="1.3"/><ellipse cx="132.8" cy="491.8" rx="14.72" ry="18.03" transform="rotate(8 132.8 491.8)" stroke-width="0.5"/><g transform="rotate(8 132.8 491.8)"><polyline points="145.97 495.07 137.97 493.97 144.72 499.04" stroke-width="1.45"/><polyline points="140.32 498.72 143.22 501.39" stroke-width="1.6" stroke-linecap="butt"/><polyline points="141.89 503.93 135.94 497.27 138.97 506.24" stroke-width="1.45"/><polyline points="135.57 502.82 136.63 507.06" stroke-width="1.6" stroke-linecap="butt"/><polyline points="134.33 508.16 132.71 498.49 130.87 507.93" stroke-width="1.45"/><polyline points="129.75 502.7 128.58 506.91" stroke-width="1.6" stroke-linecap="butt"/><polyline points="126.19 506.14 129.52 497.15 123.5 503.45" stroke-width="1.45"/><polyline points="125.1 498.43 122.13 500.98" stroke-width="1.6" stroke-linecap="butt"/><polyline points="120.57 498.64 127.58 493.77 119.68 494.53" stroke-width="1.45"/><polyline points="123.39 491.62 119.76 491.55" stroke-width="1.6" stroke-linecap="butt"/><polyline points="119.63 488.53 127.63 489.63 120.88 484.56" stroke-width="1.45"/><polyline points="125.28 484.88 122.38 482.21" stroke-width="1.6" stroke-linecap="butt"/><polyline points="123.71 479.67 129.66 486.33 126.63 477.36" stroke-width="1.45"/><polyline points="130.03 480.78 128.97 476.54" stroke-width="1.6" stroke-linecap="butt"/><polyline points="131.27 475.44 132.89 485.11 134.73 475.67" stroke-width="1.45"/><polyline points="135.85 480.9 137.02 476.69" stroke-width="1.6" stroke-linecap="butt"/><polyline points="139.41 477.46 136.08 486.45 142.1 480.15" stroke-width="1.45"/><polyline points="140.5 485.17 143.47 482.62" stroke-width="1.6" stroke-linecap="butt"/><polyline points="145.03 484.96 138.02 489.83 145.92 489.07" stroke-width="1.45"/><polyline points="142.21 491.98 145.84 492.05" stroke-width="1.6" stroke-linecap="butt"/><polyline points="119.36 490.8 146.24 492.8" stroke-width="1.7"/><ellipse cx="132.8" cy="491.8" rx="8" ry="9.8" stroke-width="0.6"/></g><ellipse cx="132.8" cy="491.8" rx="5.25" ry="6.43" transform="rotate(8 132.8 491.8)" class="w" stroke-width="1.4"/><ellipse cx="132.8" cy="491.8" rx="3.36" ry="4.12" transform="rotate(8 132.8 491.8)" stroke-width="1.1"/><ellipse cx="132.8" cy="491.8" rx="1.76" ry="2.16" transform="rotate(8 132.8 491.8)" class="k"/><ellipse cx="86.6" cy="474.4" rx="5.51" ry="5.8" class="w" stroke-width="1.2"/><ellipse cx="87.4" cy="474.4" rx="3.48" ry="4.06" stroke-width="1.1"/><path d="M85.6 472 l2.6 1 l-0.6 3 l-2.4 -0.8 Z" class="k"/><polyline points="81.38 471.5 84.86 469.18"/><polyline points="82.25 477.3 86.02 479.62"/><path d="M88.2 472.2 a3 4 0 0 1 0 5" stroke-width="1.2"/><ellipse cx="101.2" cy="479" rx="3.2" ry="3.36" class="k"/><ellipse cx="101.4" cy="479" rx="1.28" ry="1.44" fill="#999" stroke="none"/><text transform="translate(56.4 478) scale(0.66 1)" font-size="11">15(4)</text><polyline points="73 474.5 81 474.5"/><text transform="translate(71.4 492) scale(0.66 1)" font-size="11">16(4)</text><polyline points="88 486.8 98.6 481.4"/><text transform="translate(100.5 527) scale(0.66 1)" font-size="11">17(2)</text><polyline points="112 516 116 507.5"/><polyline points="366 599 375 603" class="t"/><polyline points="411 617.5 421 622.5" class="t"/><ellipse cx="388.4" cy="610.4" rx="16.9" ry="20.4" transform="rotate(8 388.4 610.4)" class="w" stroke-width="1.1"/><ellipse cx="389.72" cy="610.58" rx="16.6" ry="19.9" transform="rotate(8 389.72 610.58)" stroke="#2a2a2a" stroke-width="2.52" stroke-dasharray="1.5 1.3" fill="none"/><ellipse cx="392.24" cy="610.91" rx="16.8" ry="20.1" transform="rotate(8 392.24 610.91)" stroke="#2a2a2a" stroke-width="2.52" stroke-dasharray="1.5 1.3" stroke-dashoffset="1.4" fill="none"/><ellipse cx="388.4" cy="610.4" rx="16.9" ry="20.4" transform="rotate(8 388.4 610.4)" stroke-width="1.3"/><ellipse cx="394.4" cy="611.2" rx="16.9" ry="20.4" transform="rotate(8 394.4 611.2)" class="w" stroke-width="1.5"/><ellipse cx="394.4" cy="611.2" rx="14.2" ry="17.14" transform="rotate(8 394.4 611.2)" stroke-width="1.3"/><ellipse cx="394.4" cy="611.2" rx="15.55" ry="18.77" transform="rotate(8 394.4 611.2)" stroke-width="0.5"/><g transform="rotate(8 394.4 611.2)"><polyline points="408.31 614.6 399.57 613.34 406.99 618.73" stroke-width="1.45"/><polyline points="402.35 618.4 405.41 621.18" stroke-width="1.69" stroke-linecap="butt"/><polyline points="404 623.83 397.54 616.59 400.92 626.23" stroke-width="1.45"/><polyline points="397.32 622.67 398.45 627.09" stroke-width="1.69" stroke-linecap="butt"/><polyline points="396.02 628.22 394.31 617.79 392.36 627.98" stroke-width="1.45"/><polyline points="391.18 622.55 389.94 626.93" stroke-width="1.69" stroke-linecap="butt"/><polyline points="387.42 626.12 391.12 616.47 384.57 623.33" stroke-width="1.45"/><polyline points="386.27 618.1 383.13 620.76" stroke-width="1.69" stroke-linecap="butt"/><polyline points="381.49 618.32 389.18 613.14 380.54 614.04" stroke-width="1.45"/><polyline points="384.46 611.01 380.63 610.94" stroke-width="1.69" stroke-linecap="butt"/><polyline points="380.49 607.8 389.23 609.06 381.81 603.67" stroke-width="1.45"/><polyline points="386.45 604 383.39 601.22" stroke-width="1.69" stroke-linecap="butt"/><polyline points="384.8 598.57 391.26 605.81 387.88 596.17" stroke-width="1.45"/><polyline points="391.48 599.73 390.35 595.31" stroke-width="1.69" stroke-linecap="butt"/><polyline points="392.78 594.18 394.49 604.61 396.44 594.42" stroke-width="1.45"/><polyline points="397.62 599.85 398.86 595.47" stroke-width="1.69" stroke-linecap="butt"/><polyline points="401.38 596.28 397.68 605.93 404.23 599.07" stroke-width="1.45"/><polyline points="402.53 604.3 405.67 601.64" stroke-width="1.69" stroke-linecap="butt"/><polyline points="407.31 604.08 399.62 609.26 408.26 608.36" stroke-width="1.45"/><polyline points="404.34 611.39 408.17 611.46" stroke-width="1.69" stroke-linecap="butt"/><polyline points="380.2 610.2 408.6 612.2" stroke-width="1.7"/><ellipse cx="394.4" cy="611.2" rx="8.45" ry="10.2" stroke-width="0.6"/></g><ellipse cx="394.4" cy="611.2" rx="5.25" ry="6.34" transform="rotate(8 394.4 611.2)" class="w" stroke-width="1.4"/><ellipse cx="394.4" cy="611.2" rx="3.36" ry="4.06" transform="rotate(8 394.4 611.2)" stroke-width="1.1"/><ellipse cx="394.4" cy="611.2" rx="1.76" ry="2.13" transform="rotate(8 394.4 611.2)" class="k"/><ellipse cx="416.2" cy="620.8" rx="3.2" ry="3.36" class="k"/><ellipse cx="416.4" cy="620.8" rx="1.28" ry="1.44" fill="#999" stroke="none"/><path d="M425.96 619.6 L421.31 622.39 A3.72 6.2 0 0 0 423.79 632 L428.75 631.69 Z" class="w" stroke-width="1.2"/><ellipse cx="428.44" cy="625.8" rx="4.46" ry="6.08" transform="rotate(-15 428.44 625.8)" class="w" stroke-width="1.5"/><ellipse cx="429.06" cy="625.9" rx="3.1" ry="4.46" transform="rotate(-15 429.06 625.9)" stroke-width="1"/><polyline points="427.2 625.2 429.99 626.4" stroke-width="0.8"/><polyline points="421.62 624.56 420.07 625.18 421 630.14 422.86 630.45"/><polyline points="524.5 567.8 545 576" class="t" stroke-dasharray="5 1.5 1 1.5"/><polyline points="592 597.5 605 603.5" class="t"/><ellipse cx="560.6" cy="586.9" rx="25" ry="30" transform="rotate(7 560.6 586.9)" class="w" stroke-width="1.1"/><ellipse cx="562.58" cy="587.21" rx="24.7" ry="29.5" transform="rotate(7 562.58 587.21)" stroke="#2a2a2a" stroke-width="3.78" stroke-dasharray="1.5 1.3" fill="none"/><ellipse cx="566.36" cy="587.8" rx="24.9" ry="29.7" transform="rotate(7 566.36 587.8)" stroke="#2a2a2a" stroke-width="3.78" stroke-dasharray="1.5 1.3" stroke-dashoffset="1.4" fill="none"/><ellipse cx="560.6" cy="586.9" rx="25" ry="30" transform="rotate(7 560.6 586.9)" stroke-width="1.3"/><ellipse cx="569.6" cy="588.3" rx="25" ry="30" transform="rotate(7 569.6 588.3)" class="w" stroke-width="1.5"/><ellipse cx="569.6" cy="588.3" rx="21" ry="25.2" transform="rotate(7 569.6 588.3)" stroke-width="1.3"/><ellipse cx="569.6" cy="588.3" rx="23" ry="27.6" transform="rotate(7 569.6 588.3)" stroke-width="0.5"/><g transform="rotate(7 569.6 588.3)"><polyline points="576.19 584.58 590.18 583.29" stroke-width="1.2"/><polyline points="576.19 592.02 590.18 593.31" stroke-width="1.2"/><polyline points="578.5 586.72 578.5 589.88" stroke-width="0.7"/><polyline points="580.5 586.34 580.5 590.26" stroke-width="0.7"/><polyline points="582.5 585.97 582.5 590.63" stroke-width="0.7"/><polyline points="584.5 585.59 584.5 591.01" stroke-width="0.7"/><polyline points="586.5 585.21 586.5 591.39" stroke-width="0.7"/><polyline points="575.58 593.28 583.5 607.19" stroke-width="1.2"/><polyline points="570.21 597.01 576.28 612.19" stroke-width="1.2"/><polyline points="575.1 596.57 572.82 598.15" stroke-width="0.7"/><polyline points="576.41 598.54 573.59 600.5" stroke-width="0.7"/><polyline points="577.72 600.51 574.35 602.85" stroke-width="0.7"/><polyline points="579.03 602.48 575.12 605.19" stroke-width="0.7"/><polyline points="580.34 604.45 575.88 607.54" stroke-width="0.7"/><polyline points="568.99 597.01 562.92 612.19" stroke-width="1.2"/><polyline points="563.62 593.28 555.7 607.19" stroke-width="1.2"/><polyline points="566.38 598.15 564.1 596.57" stroke-width="0.7"/><polyline points="565.61 600.5 562.79 598.54" stroke-width="0.7"/><polyline points="564.85 602.85 561.48 600.51" stroke-width="0.7"/><polyline points="564.08 605.19 560.17 602.48" stroke-width="0.7"/><polyline points="563.32 607.54 558.86 604.45" stroke-width="0.7"/><polyline points="563.01 592.02 549.02 593.31" stroke-width="1.2"/><polyline points="563.01 584.58 549.02 583.29" stroke-width="1.2"/><polyline points="560.5 589.88 560.5 586.72" stroke-width="0.7"/><polyline points="558.5 590.26 558.5 586.34" stroke-width="0.7"/><polyline points="556.5 590.63 556.5 585.97" stroke-width="0.7"/><polyline points="554.5 591.01 554.5 585.59" stroke-width="0.7"/><polyline points="552.5 591.39 552.5 585.21" stroke-width="0.7"/><polyline points="563.62 583.32 555.7 569.41" stroke-width="1.2"/><polyline points="568.99 579.59 562.92 564.41" stroke-width="1.2"/><polyline points="564.1 580.03 566.38 578.45" stroke-width="0.7"/><polyline points="562.79 578.06 565.61 576.1" stroke-width="0.7"/><polyline points="561.48 576.09 564.85 573.75" stroke-width="0.7"/><polyline points="560.17 574.12 564.08 571.41" stroke-width="0.7"/><polyline points="558.86 572.15 563.32 569.06" stroke-width="0.7"/><polyline points="570.21 579.59 576.28 564.41" stroke-width="1.2"/><polyline points="575.58 583.32 583.5 569.41" stroke-width="1.2"/><polyline points="572.82 578.45 575.1 580.03" stroke-width="0.7"/><polyline points="573.59 576.1 576.41 578.06" stroke-width="0.7"/><polyline points="574.35 573.75 577.72 576.09" stroke-width="0.7"/><polyline points="575.12 571.41 579.03 574.12" stroke-width="0.7"/><polyline points="575.88 569.06 580.34 572.15" stroke-width="0.7"/></g><ellipse cx="569.6" cy="588.3" rx="7" ry="8.4" transform="rotate(7 569.6 588.3)" class="w" stroke-width="1.4"/><ellipse cx="569.6" cy="588.3" rx="4.48" ry="5.38" transform="rotate(7 569.6 588.3)" stroke-width="1.1"/><ellipse cx="569.6" cy="588.3" rx="2.35" ry="2.82" transform="rotate(7 569.6 588.3)" class="k"/><ellipse cx="598.8" cy="600.8" rx="3.2" ry="3.36" class="k"/><ellipse cx="599" cy="600.8" rx="1.28" ry="1.44" fill="#999" stroke="none"/><path d="M609.12 599.6 L604.32 602.48 A3.84 6.4 0 0 0 606.88 612.4 L612 612.08 Z" class="w" stroke-width="1.2"/><ellipse cx="611.68" cy="606" rx="4.61" ry="6.27" transform="rotate(-15 611.68 606)" class="w" stroke-width="1.5"/><ellipse cx="612.32" cy="606.1" rx="3.2" ry="4.61" transform="rotate(-15 612.32 606.1)" stroke-width="1"/><polyline points="610.4 605.4 613.28 606.6" stroke-width="0.8"/><polyline points="604.64 604.72 603.04 605.36 604 610.48 605.92 610.8"/>
<!-- p_d_deck -->
<path d="M159 507 C160 500 165 497 169.5 497 C175 497 178 500 180 503 L189 501.5 C194 497 196 492 199.5 488 C203 483 206 479 210 475.4 C213 473 216 471 220.5 468.4 L234 462.3 L249 455.8 L261 452 L279 444.5 L288 440 L292 433 L292 429 L295 425.5 L299 425 L346 444.5 L350 447 L351 450 L368 505 L362 503 L354 498 L343 502 L338 513 L318 517 L312 520.5 C300 528 285 534.5 262 536.5 C245 538 230 537.5 217 536.5 L210 537 C195 534 180 528 170 520.5 C164 516 160 512 159 507 Z" class="w" stroke-width="1.1"/><path d="M160.1 509.8 C164 513 168 515 172.5 517.1 C177 519.6 182 522.4 187.1 525 C193 527.6 198 529.2 204 530.6 L213 532.9" stroke-width="1.9"/><path d="M161 511.6 C165 515 169 517.6 173 519.6 C178 522 183 525 188 527.4 C194 530 199 531.8 205 533 L213 534.6" stroke-width="0.7"/><path d="M172 519.6 L187.6 527.6" stroke="#2a2a2a" stroke-width="3.2" stroke-dasharray="2.2 1"/><path d="M188.6 528.4 L196 531" stroke="#2a2a2a" stroke-width="2" stroke-dasharray="2 1"/><path d="M213 520.5 L213 537.4" stroke-width="1.7"/><path d="M216.8 520 L216.8 536.6 M214.8 529 L214.8 535" stroke-width="0.9"/><path d="M162.6 506 C163 501.8 166.5 499.4 170 499.4 C174 499.6 176.5 501.6 178 504.5"/><path d="M180 503 L184.5 504.5 C188 503.5 192 500.5 195 497 C198.5 492.5 201.5 488.5 205.5 485 C208 482.7 210.5 481 213 479.6"/><path d="M172 497.6 L172 506" stroke-width="0.7"/><path d="M176 504 L176 516" stroke="#555" stroke-width="2.8"/><path d="M172.4 506.6 L172.4 514" stroke="#555" stroke-width="2"/><path d="M168 508.6 l4 2 M164.6 507.4 l3 1.6 M179 509.6 l3.6 1.6" stroke-width="1.7"/><path d="M166 510.5 L178 516.6 L192 522 L208 526 M171 509 L186 515 L202 519.4 L211 521.6 M180 512 L180 517.6 M186 515 L186 520 M193 512.6 L193 522 M198 511 L198 518.6 M202 514 L202 524 M208 515.6 L208 526 M180 512 L198 511" stroke-width="0.9"/><path d="M186 515 L196 508.6 M193 518 L206 512" stroke-width="0.8"/><path d="M200.6 526.6 C201 522.4 204 520.6 207 521.4 C209.6 522 211 524 211 527" stroke-width="2.2"/><ellipse cx="205.6" cy="525.6" rx="2.2" ry="1.6" stroke-width="1"/><path d="M196 509 l0 -5 M199.6 507.6 l0 -4.6" stroke="#555" stroke-width="1.8"/><polyline points="200 489.2 200.6 494.2" stroke-width="1.5"/><polyline points="202.6 488 203 492.6" stroke-width="0.7"/><polyline points="204.5 483.2 205.1 488.2" stroke-width="1.5"/><rect x="205.7" y="484" width="2.2" height="3" class="k" stroke="none"/><polyline points="209.5 478.2 210.1 483.2" stroke-width="1.5"/><polyline points="212.1 477 212.5 481.6" stroke-width="0.7"/><polyline points="215 474.6 215.6 479.6" stroke-width="1.5"/><rect x="216.2" y="475.4" width="2.2" height="3" class="k" stroke="none"/><polyline points="221 471.6 221.6 476.6" stroke-width="1.5"/><polyline points="223.6 470.4 224 475" stroke-width="0.7"/><polyline points="227 468.6 227.6 473.6" stroke-width="1.5"/><rect x="228.2" y="469.4" width="2.2" height="3" class="k" stroke="none"/><polyline points="233 465.6 233.6 470.6" stroke-width="1.5"/><polyline points="235.6 464.4 236 469" stroke-width="0.7"/><polyline points="239 462.8 239.6 467.8" stroke-width="1.5"/><rect x="240.2" y="463.6" width="2.2" height="3" class="k" stroke="none"/><polyline points="245 460.4 245.6 465.4" stroke-width="1.5"/><polyline points="247.6 459.2 248 463.8" stroke-width="0.7"/><polyline points="251 458 251.6 463" stroke-width="1.5"/><rect x="252.2" y="458.8" width="2.2" height="3" class="k" stroke="none"/><polyline points="256 456.2 256.6 461.2" stroke-width="1.5"/><polyline points="258.6 455 259 459.6" stroke-width="0.7"/><path d="M201.5 492 C205 487 209 483.4 214 480.4 C222 476 232 471.5 242 467 C247 465 252 463 256 461.8" stroke-width="0.9"/><path d="M256 461.8 C257.5 459.5 259 459 260 461.5 L261 469 M261.4 452.4 C263.5 456.5 265 461 265.6 470 M258.6 455 L259.8 462 M263 458 L263.6 472" stroke-width="1"/><path d="M265.5 458.8 L303 457.3 L306 459.6 L306.8 483.6 M268 462 L300 460.6 L300 472 M283 460.8 L283 476" stroke-width="0.9"/><ellipse cx="242" cy="481.4" rx="32" ry="9" transform="rotate(-5 242 481.4)" class="w" stroke-width="1.25"/><polyline points="214.5 483.4 214.5 486.8" stroke-width="0.8"/><polyline points="219.5 481 219.5 488.6" stroke-width="1.2800000000000002"/><polyline points="223.5 479.6 223.5 489.2" stroke-width="0.6400000000000001"/><polyline points="228.5 478 228.5 489.8" stroke-width="1.36"/><polyline points="233.5 476.8 233.5 490" stroke-width="0.6400000000000001"/><polyline points="238.5 475.8 238.5 489.8" stroke-width="1.4400000000000002"/><polyline points="243.5 475 243.5 489.6" stroke-width="0.6400000000000001"/><polyline points="248.5 474.4 248.5 489" stroke-width="1.2800000000000002"/><polyline points="253.5 474 253.5 488.2" stroke-width="0.6400000000000001"/><polyline points="257.5 473.8 257.5 487.2" stroke-width="1.2000000000000002"/><polyline points="262.5 474 262.5 485.6" stroke-width="0.6400000000000001"/><polyline points="266.5 474.8 266.5 484" stroke-width="0.96"/><path d="M212.5 484.5 C222 481.5 240 480 256 479 C264 478.5 270 478.6 273 479.6" stroke-width="0.7"/><path d="M210.2 484.6 L209 493 C211 500 216 505 224 509 M273.8 478.6 L274.4 500" stroke-width="1"/><path d="M224 509 C234 513 252 513.5 264 511.4 C270 510 274 507.5 277 504" stroke-width="1"/><polyline points="224.5 502.5 224.5 510.8" stroke-width="1.7600000000000002"/><polyline points="229.5 491.6 229.5 511" stroke-width="0.6400000000000001"/><polyline points="235.5 492 235.5 512" stroke-width="0.6400000000000001"/><polyline points="240.5 498 240.5 512.6" stroke-width="0.7200000000000001"/><polyline points="248.5 500 248.5 512" stroke-width="1.92"/><polyline points="251.5 492 251.5 512.6" stroke-width="0.6400000000000001"/><polyline points="258.5 491 258.5 512" stroke-width="0.6400000000000001"/><polyline points="262.5 499 262.5 511.6" stroke-width="0.96"/><polyline points="267.5 496.5 267.5 510.6" stroke-width="1.7600000000000002"/><polyline points="270.5 488 270.5 509" stroke-width="0.6400000000000001"/><polyline points="277.5 470 277.5 509.5" stroke-width="1.2000000000000002"/><polyline points="280.5 488 280.5 508" stroke-width="1.7600000000000002"/><polyline points="285.5 486 285.5 507" stroke-width="0.8"/><polyline points="288.5 489 288.5 506" stroke-width="1.6"/><polyline points="292.5 484 292.5 505" stroke-width="0.8"/><path d="M292.5 484 L300 481 L306.6 483.6 L306.6 491 L299 494 L292.5 491.5 Z M292.5 484 L299 486.6 L306.6 483.6 M299 486.6 L299 494" stroke-width="1.1" class="w"/><path d="M294 495 L294 503 M299 496 L299 502 M304 493 L304 500" stroke-width="1.2"/><path d="M290 469.5 L290 484 M299.4 467 L299.4 480.6" stroke-width="1"/><path d="M275 489 L275 508 M278.6 492 L278.6 508.6 M282.6 490 L282.6 507.6 M286 493 L286 506" stroke="#555" stroke-width="2.2"/><path d="M316.8 461 L316.8 473.6 M299.9 467 L299.9 482" stroke="#444" stroke-width="1.8"/><path d="M289 493 L298 490.4 L306.6 493.4 L306.6 503 M289 493 L289 501 M292 497.6 L305 498.6 M292 500.6 L305 501.6" stroke-width="1"/><path d="M314.5 443.4 L304.4 472.6 M315 444.5 L316.2 478" stroke-width="0.8"/><path d="M287 462.5 L287 487" stroke-width="0.9"/><path d="M197 500 C199.5 503.5 202 505.8 204 507.5 C208 510.5 212.5 513 217.5 515 C222 516.4 226 516.8 229.5 516.5"/><path d="M200.5 493 C203 498 209 504 217 508.6 C221 510.4 225 511 228 510.4" stroke-width="0.8"/><path d="M229.5 516.5 C232 514.4 240 513.6 250 513.6 C262 513.6 274 512.4 284 510.5 C292 509 300 507 308 502.6" stroke-width="1"/><path d="M217.5 520 C222 521.4 226 523.5 229.5 527 C240 528.4 252 528.6 262.5 527.8 C280 526.4 296 523 310 515 C314 512.5 317.5 508.5 319 504" stroke-width="1"/><path d="M229.5 527 C229.6 523.5 229 519.5 229.5 516.5" class="t"/><path d="M217 531.6 C230 533 248 533.6 262.5 532.6 C282 531 298 526 311 518" stroke-width="0.7"/><polyline points="238 514 236 527.6" stroke-width="0.8"/><polyline points="246 513.6 245.4 528.2" stroke-width="0.8"/><polyline points="254 513.6 255 528.2" stroke-width="0.8"/><polyline points="262 513.4 265 527.6" stroke-width="0.8"/><polyline points="270 512.8 275 526.6" stroke-width="0.8"/><polyline points="278 511.6 285 525" stroke-width="0.8"/><polyline points="286 510 295 522.6" stroke-width="0.8"/><polyline points="294 508.4 304 518.6" stroke-width="0.8"/><polyline points="302 505.6 311 514" stroke-width="0.8"/><path d="M279 444.5 L309 441.5 M288 440 L312 435.6 M292 433 L339 451.5 M295 425.5 L299 429 L343 447.5" stroke-width="0.9"/><path d="M309 441.5 L307.6 455 L306 470 M312.4 437 L311.4 452 L309 476" stroke-width="0.9"/><path d="M296 427 a2.4 1.2 0 1 0 0.1 0 M344 446.4 a2.6 1.3 0 1 0 0.1 0" stroke-width="1"/><path d="M300 428.2 L345 447.2 M303 431.6 l4 1.6 M322 439 l5 2 " stroke-width="0.7"/><path d="M312 452 C320 455 330 456.6 339 454" stroke-width="0.7"/><path d="M339.3 454.6 C331 457 326 460.5 323.5 463.6 C319 469 316 473 314.5 477.1 C312 483 310.6 487 310 490.6 C309 497 308.8 502 308.9 507.5" stroke="#1e1e1e" stroke-width="4.2" stroke-dasharray="1.3 0.45"/><path d="M341.6 457.6 C334 460 329.6 463 327 466 C322.6 471.4 319.6 475.6 318 479.6 C315.6 485.4 314.2 489.4 313.6 493 C312.8 499 312.6 503 312.7 507.5" stroke-width="0.8"/><rect x="316.1" y="494.41" width="3.6" height="3.6" stroke-width="1.3" fill="#777" transform="rotate(71 317.9 496.21)"/><rect x="317.44" y="488.24" width="3.6" height="3.6" stroke-width="1.3" fill="#777" transform="rotate(61.14 319.24 490.04)"/><rect x="319.7" y="482.42" width="3.6" height="3.6" stroke-width="1.3" fill="#777" transform="rotate(51.29 321.5 484.22)"/><rect x="322.79" y="477.13" width="3.6" height="3.6" stroke-width="1.3" fill="#777" transform="rotate(41.43 324.59 478.93)"/><rect x="326.63" y="472.52" width="3.6" height="3.6" stroke-width="1.3" fill="#777" transform="rotate(31.57 328.43 474.32)"/><rect x="331.12" y="468.72" width="3.6" height="3.6" stroke-width="1.3" fill="#777" transform="rotate(21.71 332.92 470.52)"/><rect x="336.1" y="465.86" width="3.6" height="3.6" stroke-width="1.3" fill="#777" transform="rotate(11.86 337.9 467.66)"/><rect x="341.44" y="464.01" width="3.6" height="3.6" stroke-width="1.3" fill="#777" transform="rotate(2 343.24 465.81)"/><path d="M344.6 462 C333 468 322.6 481 319.6 500" stroke-width="0.8"/><path d="M318.5 504 L318.5 511 M313 504.5 L313 512" stroke-width="0.9"/><path d="M343 451.5 L343 494 M350 450 L350 493.5 M343 476.5 A3.5 1.4 0 0 0 350 476.5 M343 468 h7" stroke-width="1"/><path d="M340 464 L343 463 M340 470.5 L343 470.5 M340 464 L340 470.5" stroke-width="1"/><path d="M351 450 L368 505 M352.5 457 L364.5 501 L355 497.6 M350 493.5 L354 498 M343 494 L346 497.5 L343 502" stroke-width="1"/><path d="M338 513 L342.5 502.5 M318 517 L318.5 511" stroke-width="0.9"/><text transform="translate(170.5 544.5) scale(0.66 1)" font-size="11">41</text><polyline points="176 536.4 182 530"/><polygon points="182.5 459 209.2 446.4 210.6 447 210.6 451.8 183.6 464.4 182.5 464" class="w"/><polyline points="182.5 459 183.6 459.6 210.6 447"/><polyline points="183.5 459.6 183.5 464.4"/><text transform="translate(208 465) scale(0.66 1)" font-size="11">40</text><polyline points="211 459.4 201 453.6"/><polygon points="174 561.2 206.8 539.6 209.6 540.2 209.6 555.4 176.4 573 174 572.4" class="w"/><polyline points="174 561.2 176.4 561.8 209.6 540.2"/><polyline points="176.5 561.8 176.5 573"/><text transform="translate(218 562.5) scale(0.66 1)" font-size="11">43</text><polyline points="217 558 197.5 556"/><polyline points="153 502 160 506" class="t"/>
<!-- p_e_under -->
<polyline points="261.5 448 261.5 612.8" class="t dash"/><polyline points="217.5 535 296 568.4" class="t"/><text transform="translate(227 551.5) scale(0.66 1)" font-size="11">42</text><polyline points="235.5 547.6 250.5 547.2"/><path d="M249.6 548 C249.6 543.6 254.6 540.6 261 540.6 C267.6 540.6 271.6 543.6 271.6 547.6 L271.4 549.6 L262 554.8 L258.6 554.8 L250.4 551 Z" class="k"/><path d="M253 546.6 C255 543.6 258 542.6 261.6 542.6 C265 542.6 268 543.8 269.4 546.4" stroke="#ddd" stroke-width="0.8" stroke-dasharray="1.2 0.9"/><path d="M254.6 549 C257.6 546.4 263.6 546 267 548.4" stroke="#ddd" stroke-width="0.8" stroke-dasharray="1.4 0.8"/><path d="M251.6 550.6 L259 554 L262 554 L270.6 549.4" stroke="#bbb" stroke-width="0.6"/><path d="M259 554.8 L259 556.8 L263 556.8 L263 554.6" class="w" stroke-width="0.8"/><path d="M215 591.6 L222.8 585.6 L235 578.6 L240.3 575 L257.8 566.4 L277.9 556.8 L284 552.4 L295.4 542.8 L305.9 548.9 L298 553.3 L287.5 557.6 L282.3 562 L264.8 570.8 L243.8 580.4 L235 583 L222.8 591.8 Z" class="w" stroke-width="1.1"/><path d="M243.6 577.4 L279 558 A1.6 1.4 0 0 1 280.2 560 L244.6 579.6 A1.6 1.4 0 0 1 243.6 577.4 Z" stroke-width="0.9"/><ellipse cx="260.4" cy="568" rx="4.2" ry="2.2" transform="rotate(-28 260.4 568)" class="w" stroke-width="1.1"/><ellipse cx="260.4" cy="568" rx="2" ry="1" transform="rotate(-28 260.4 568)" class="g"/><polyline points="295.4 542.8 298 547"/><polyline points="235 578.6 236 582.6" class="t"/><text transform="translate(225.4 576) scale(0.66 1)" font-size="11">44</text><polyline points="233 572.4 239.4 577.6"/><rect x="259.9" y="580.4" width="2" height="6.4" class="w"/><ellipse cx="260.9" cy="587.6" rx="5.3" ry="2.4" class="w" stroke-width="1.1"/><path d="M255.7 588.2 A5.3 2.4 0 0 0 266.1 588.2" stroke-width="1.8"/><text transform="translate(239.4 597.9) scale(0.66 1)" font-size="11">45</text><polyline points="247 592.4 256 588.4"/><path d="M249 602.6 C249.4 599.4 252 598.2 254.3 598.3 L266.5 599.6 C270 600.4 271.6 603 273.5 604 L305 594.4 L310.6 594.9 L306.8 597.9 L270 609.3 L252.5 606.6 C250 606 249 604.6 249 602.6 Z" class="w" stroke-width="1.1"/><ellipse cx="258.6" cy="602.4" rx="5.6" ry="2.3" transform="rotate(4 258.6 602.4)" stroke-width="1"/><polyline points="304 596 308.6 595.4"/><text transform="translate(228.9 611.9) scale(0.66 1)" font-size="11">46</text><polyline points="237 607.4 248 604.8"/><path d="M308.3 539 L346.5 527 L348 524.8 L353.3 512 L356.3 511.3 L358.5 519.5 L366 520.3 L390 530 L390 532.3 L364.5 540.5 L357.8 545 L357 550.3 L343.5 551.8 L309 545 Z" class="w" stroke-width="1.05"/><path d="M348 524.8 L358.5 519.5 M354.6 511.8 L355.4 521 M343.5 539.8 L343.5 536 L349.5 535.3 L349.5 538.3" stroke-width="0.8"/><path d="M359 546.4 L375.6 535 L378.4 532.6 L390 531.4" stroke-width="3.2"/><path d="M359.6 546 L376 534.6 L378.6 532.4" stroke="#fff" stroke-width="1.4"/><ellipse cx="358.6" cy="545.6" rx="2.4" ry="3" transform="rotate(35 358.6 545.6)" class="w" stroke-width="1.1"/><path d="M376 530.4 l4 -1 l5 0.6 l4.6 -1.6" stroke-width="1.8"/><text transform="translate(312.9 531.4) scale(0.66 1)" font-size="11">47</text><polyline points="321.5 529.4 326.4 535"/><rect x="310.45" y="550.6" width="1.7" height="10" class="w" stroke-width="0.8"/><ellipse cx="311.3" cy="560.6" rx="1.78" ry="1.2" class="g" stroke-width="0.9"/><rect x="344.95" y="553.6" width="1.7" height="9.8" class="w" stroke-width="0.8"/><ellipse cx="345.8" cy="563.4" rx="1.78" ry="1.2" class="g" stroke-width="0.9"/><rect x="352.65" y="553" width="1.7" height="8" class="w" stroke-width="0.8"/><ellipse cx="353.5" cy="561" rx="1.78" ry="1.2" class="g" stroke-width="0.9"/><rect x="360.05" y="559" width="1.7" height="10.6" class="w" stroke-width="0.8"/><ellipse cx="360.9" cy="569.6" rx="1.78" ry="1.2" class="g" stroke-width="0.9"/><rect x="373.75" y="545.4" width="1.7" height="9.2" class="w" stroke-width="0.8"/><ellipse cx="374.6" cy="554.6" rx="1.78" ry="1.2" class="g" stroke-width="0.9"/><rect x="380.65" y="542.6" width="1.7" height="9.4" class="w" stroke-width="0.8"/><ellipse cx="381.5" cy="552" rx="1.78" ry="1.2" class="g" stroke-width="0.9"/><rect x="385.65" y="537" width="1.7" height="9.4" class="w" stroke-width="0.8"/><ellipse cx="386.5" cy="546.4" rx="1.78" ry="1.2" class="g" stroke-width="0.9"/><text transform="translate(362.3 560.5) scale(0.66 1)" font-size="11">39</text><polyline points="369.1 553.6 376 540"/><text transform="translate(371.9 570.1) scale(0.66 1)" font-size="11">38(7)</text><polyline points="380.4 561.6 381.5 553.4"/><path d="M300.4 570.4 L295 578.4 L337.5 601.8 L354 603 L362.3 596.3" stroke="#2b2b2b" stroke-width="4.4" stroke-linejoin="round"/><path d="M300.4 570.4 L295 578.4 L337.5 601.8 L354 603 L362.3 596.3" stroke="#fff" stroke-width="2.7" stroke-linejoin="round"/><ellipse cx="301.4" cy="570.6" rx="2.6" ry="2.6" class="g"/><ellipse cx="298.6" cy="569.4" rx="1.6" ry="1.8" class="w"/><path d="M361 595.4 L368 598.2" stroke-width="2.6"/><path d="M365.6 596 l3 1.2" stroke="#fff" stroke-width="1"/><path d="M328.6 589.6 L336 588.2 L339.6 590.4 L337 597.6 L334 596 Z" class="w" stroke-width="1"/><path d="M330.4 589.6 L336.4 591 L339.4 590.4" stroke-width="1.6"/><text transform="translate(317.3 575.1) scale(0.66 1)" font-size="11">48</text><polyline points="316.4 574.6 309.4 581.4"/><text transform="translate(323.4 563.8) scale(0.66 1)" font-size="11">49(4)</text><polyline points="331.5 565 331.5 580.4"/><path d="M331.6 580 v5.4" stroke-width="1.7"/><path d="M329.4 589.8 L462 566.2 M329.4 588.4 L462 564.8" stroke-width="0.75"/><text transform="translate(343 574.8) scale(0.66 1)" font-size="11">50</text><polyline points="350 575.8 358 584"/><path d="M398.6 531.4 L445.6 552.4" stroke="#222" stroke-width="2.5" stroke-dasharray="0.8 0.6"/><text transform="translate(398 553.6) scale(0.66 1)" font-size="11">52</text><polyline points="405 549.4 414.6 541.2"/><path d="M446.8 555 v9.6" stroke-width="1.5"/><polyline points="395 485.5 386.5 485.5 386.5 530" class="t"/><polyline points="400.5 542 400.5 513 455 536" class="t"/><path d="M402.4 483 L452.2 504.7 A6 9.7 0 0 0 451 524.1 L400.4 506.2 A6.8 11.6 0 0 1 402.4 483 Z" class="w" stroke-width="0.8"/><path d="M402.3 483 A6.38 11.6 0 0 0 400.5 506.2" stroke="#262626" stroke-width="2.8" fill="none" stroke-linecap="butt"/><path d="M405.25 484.28 A6.32 11.49 0 0 0 403.45 507.25" stroke="#262626" stroke-width="2.35" fill="none" stroke-linecap="butt"/><path d="M408.21 485.55 A6.26 11.38 0 0 0 406.41 508.31" stroke="#262626" stroke-width="2.35" fill="none" stroke-linecap="butt"/><path d="M411.16 486.83 A6.2 11.26 0 0 0 409.36 509.36" stroke="#262626" stroke-width="2.35" fill="none" stroke-linecap="butt"/><path d="M414.11 488.11 A6.13 11.15 0 0 0 412.31 510.41" stroke="#262626" stroke-width="2.35" fill="none" stroke-linecap="butt"/><path d="M417.06 489.38 A6.07 11.04 0 0 0 415.26 511.46" stroke="#262626" stroke-width="2.35" fill="none" stroke-linecap="butt"/><path d="M420.02 490.66 A6.01 10.93 0 0 0 418.22 512.52" stroke="#262626" stroke-width="2.35" fill="none" stroke-linecap="butt"/><path d="M422.97 491.94 A5.95 10.82 0 0 0 421.17 513.57" stroke="#262626" stroke-width="2.35" fill="none" stroke-linecap="butt"/><path d="M425.92 493.21 A5.89 10.71 0 0 0 424.12 514.62" stroke="#262626" stroke-width="2.35" fill="none" stroke-linecap="butt"/><path d="M428.88 494.49 A5.83 10.59 0 0 0 427.08 515.68" stroke="#262626" stroke-width="2.35" fill="none" stroke-linecap="butt"/><path d="M431.83 495.76 A5.77 10.48 0 0 0 430.03 516.73" stroke="#262626" stroke-width="2.35" fill="none" stroke-linecap="butt"/><path d="M434.78 497.04 A5.7 10.37 0 0 0 432.98 517.78" stroke="#262626" stroke-width="2.35" fill="none" stroke-linecap="butt"/><path d="M437.74 498.32 A5.64 10.26 0 0 0 435.94 518.84" stroke="#262626" stroke-width="2.35" fill="none" stroke-linecap="butt"/><path d="M440.69 499.59 A5.58 10.15 0 0 0 438.89 519.89" stroke="#262626" stroke-width="2.35" fill="none" stroke-linecap="butt"/><path d="M443.64 500.87 A5.52 10.04 0 0 0 441.84 520.94" stroke="#262626" stroke-width="2.35" fill="none" stroke-linecap="butt"/><path d="M446.59 502.15 A5.46 9.92 0 0 0 444.79 521.99" stroke="#262626" stroke-width="2.35" fill="none" stroke-linecap="butt"/><path d="M449.55 503.42 A5.4 9.81 0 0 0 447.75 523.05" stroke="#262626" stroke-width="2.35" fill="none" stroke-linecap="butt"/><ellipse cx="451.6" cy="514.4" rx="5.8" ry="9.6" transform="rotate(-8 451.6 514.4)" fill="#fff" stroke-width="1.2"/><ellipse cx="451.9" cy="514.6" rx="1.3" ry="1.8" class="k"/><text transform="translate(427 482.6) scale(0.66 1)" font-size="11">51</text><polyline points="425.8 480.8 414.8 489.4"/><path d="M316.3 381.9 L317.5 380 L333.8 366.3 L346.3 355.6 C348.6 354.2 350.6 354 352.5 354.4 L367.5 358.8 L383.8 366.9 C385.6 367.8 386.6 368.6 386.9 369.4 L388.8 377.5 L385 381.3 L375 386.3 L358.8 398.8 L357.5 402.5 L316.9 384.4 Z" class="w" stroke-width="1.1"/><path d="M316.3 381.9 L358.8 398.8" stroke-width="1"/><path d="M319.4 380.6 L334.4 368.8 L367.5 383.1 L360 398.1 M367.5 383.1 L373.8 386.9 L384 380.6" stroke-width="0.8"/><path d="M338.8 371.9 L361.9 381.3 L354.4 390.6 L330 380 Z" stroke-width="0.95"/><path d="M348.1 385.6 L353.1 383.1" stroke-width="1.9"/><path d="M321.6 385.6 l0.4 3.4 l4 2 l-0.2 -3.6 Z M331.6 390 l0.4 3.4 l4 2 l-0.2 -3.6 Z M341.6 394.4 l0.4 3.4 l4 2 l-0.2 -3.6 Z M350.6 398.4 l0.4 3.4 l4 2 l-0.2 -3.6 Z" stroke-width="1.3"/><path d="M322 388.6 L356 404" stroke-width="1.5"/><path d="M377.6 388.6 L378.2 384.6 L383.6 381.6 L384.6 384.6 M381 383.4 l0.2 3" stroke-width="1.1"/><text transform="translate(401 363) scale(0.66 1)" font-size="11">57</text><polyline points="398.4 360.4 386 367"/><path d="M331 398 L324.4 405 L324.4 412.6 L329.4 415 L340 399.4" class="w" stroke-width="1"/><path d="M335 398.6 L328 407 L328.6 414" stroke-width="0.8"/><path d="M325 413.2 L329.6 415.4" stroke-width="2.2"/><polyline points="348.5 402.5 348.5 413.8" class="t"/><polyline points="329.5 413.4 329.5 433.5 335.5 433.5 335.5 445.5" class="t"/><text transform="translate(339.1 431.8) scale(0.66 1)" font-size="11">58</text><polyline points="338.4 426.4 329.6 416.8"/><text transform="translate(359.8 409.2) scale(0.66 1)" font-size="11">60</text><polyline points="358.4 408.6 347.6 415.2"/><ellipse cx="346" cy="417.6" rx="2" ry="1.8" class="g" stroke-width="1.1"/><path d="M350.1 417.5 L385.9 433.1" stroke-width="1.7"/><polyline points="385.9 433.1 396.9 438.6 362.5 453.8 351.5 448.3" class="t"/><text transform="translate(378.5 423) scale(0.66 1)" font-size="11">59</text><polyline points="377.6 422.2 370.8 426.2"/><text transform="translate(461 478.5) scale(0.66 1)" font-size="11">38(2)</text><polyline points="477.6 466.4 479.6 463.6"/><ellipse cx="480.6" cy="462" rx="1.6" ry="1.2" class="g"/><polyline points="479 463 478 466"/>
<!-- p_f_bracket -->
<polyline points="430 526.5 538 573.8" class="t" stroke-dasharray="7 1.5 1.2 1.5"/><ellipse cx="457.6" cy="537.8" rx="2.4" ry="2.2" class="w" stroke-width="1.1"/><ellipse cx="460" cy="538.6" rx="1.6" ry="1.8" class="w" stroke-width="1"/><path d="M453.3 546 L458.5 542.3 L465.3 543.8 L466.4 563.3 L461.5 563.3 L459 553.5 L453.3 549.5 Z" class="w" stroke-width="1"/><polyline points="458.5 542.3 459.6 553.6"/><polyline points="453.3 546 459.4 548.6"/><path d="M465.3 543.8 L500.5 564 L494.5 573 L459.4 552.6 Z" class="w" stroke-width="1"/><polyline points="463 548.4 497.6 568.4" class="t"/><path d="M463.8 564 L475 562.5 L481.8 555.8 L489.3 558.8 L491.5 564.8" stroke-width="1.1"/><path d="M481.5 554.2 L486.5 554.2 L488.5 556.6 L483.5 557.2 Z" class="k"/><path d="M485 558 L489 566 L494 568.6" stroke-width="1"/><path d="M483.3 544.5 V554.5" stroke-width="1.3"/><path d="M493.8 573.8 L498.3 567 L508 561 L515.5 564 L517.8 567.8 L517 585 L513.3 588 L508 580.5 L494.5 581.3 Z" class="w" stroke-width="1.05"/><path d="M498.3 567 L499 574.4 L508 573.4 L508 580.5 M508 573.4 L514.4 568.6 L517.8 567.8 M499 574.4 L493.8 573.8 M512 578 L512.6 586.6" stroke-width="0.9"/><ellipse cx="501.4" cy="569.2" rx="0.9" ry="0.9" class="k"/><ellipse cx="500.6" cy="577" rx="0.9" ry="0.9" class="k"/><ellipse cx="515" cy="584.6" rx="1" ry="1" class="k"/><path d="M519.3 565.6 L526.8 569" stroke-width="3.4"/><path d="M520 565.9 L526.3 568.7" stroke="#fff" stroke-width="1.8"/><ellipse cx="527.4" cy="569.4" rx="1.2" ry="1.6" class="w" stroke-width="0.9"/><path d="M493.8 576.2 L474.3 579.4 M493.8 577.6 L474.6 580.8" stroke-width="0.7"/><ellipse cx="472.6" cy="581.4" rx="1.6" ry="1.4" class="w" stroke-width="1"/><path d="M472.6 583 L472.4 586.6" stroke-width="1.8"/><ellipse cx="472" cy="573" rx="5.6" ry="3.6" transform="rotate(-18 472 573)" class="k"/><ellipse cx="473" cy="571.8" rx="2.6" ry="1.2" transform="rotate(-18 473 571.8)" stroke="#bbb" stroke-width="0.7"/><ellipse cx="472" cy="592.4" rx="5.6" ry="3.6" transform="rotate(-18 472 592.4)" class="k"/><ellipse cx="473" cy="591.2" rx="2.6" ry="1.2" transform="rotate(-18 473 591.2)" stroke="#bbb" stroke-width="0.7"/><polyline points="466.8 576.5 459.5 576.5 459.5 592.5 466.8 592.5"/><polyline points="455 584.5 459.3 584.5"/><text transform="translate(447.3 587.3) scale(0.66 1)" font-size="11">54</text><text transform="translate(477.7 537.8) scale(0.66 1)" font-size="11">53</text><polyline points="477.3 538.6 466 550.4"/><path d="M473.5 597 V602" stroke-width="0.6"/><rect x="472.7" y="602.3" width="1.6" height="6.6" class="g" stroke-width="0.9"/><ellipse cx="473.5" cy="609.6" rx="1.9" ry="1.1" class="k"/><rect x="469.7" y="613.6" width="1.6" height="5.8" class="g" stroke-width="0.9"/><ellipse cx="470.5" cy="620" rx="1.9" ry="1.1" class="k"/><text transform="translate(449.2 618.8) scale(0.66 1)" font-size="11">56(2)</text><polyline points="466 616.5 468.8 616.5"/><path d="M447 553.6 V564" stroke-width="1.4"/><polyline points="445.6 556 447 553 448.4 556"/>
<!-- p_g_topcover -->
<polyline points="416.5 213.8 416.5 297" class="t" stroke-dasharray="1.2 0.9"/><polyline points="439.5 229 439.5 301" class="t" stroke-dasharray="1.2 0.9"/><polyline points="483.5 214 483.5 249.4" class="t" stroke-dasharray="1.2 0.9"/><polyline points="501.5 240 501.5 260.6" class="t" stroke-dasharray="1.2 0.9"/><path d="M462.8 153.4 C455 153.4 449 155 445 158.6 C437 164 432.5 172 431 181 L419.7 198.8 L403.8 200.6 L399 206.3 L401.9 214.7 L406.6 215.6 C407 211.5 409 209 411.3 209 L416.6 213.8 L419.7 211.9 L428.1 195 L437.5 183.8 C441 178 443.5 174 446.9 171.6 C452 168 458 164 462.8 162.2 Z" class="w" stroke-width="1.05"/><path d="M422 197 L434 180 C438 173.6 443 168.4 449 164 C454 160.6 458.5 158.4 462.8 157" stroke-width="1"/><path d="M419.6 203 L435.6 181.4 C440 175 445 170 451 166 C455 163.2 459 161 462.8 159" stroke-width="1.3"/><path d="M418 208.6 L436.6 182.8 C441 176.6 446 171.6 452 167.6 C456 165 459.6 162.6 462.8 160.8" stroke-width="1.5"/><path d="M403.8 200.6 L410 204.4 L416.4 204 M410 204.4 L411.3 209 M399 206.3 L404.6 209 L406.6 215.6" stroke-width="0.9"/><ellipse cx="452.6" cy="158.6" rx="0.8" ry="0.6" class="k"/><ellipse cx="415" cy="203" rx="0.7" ry="0.7" class="k"/><text transform="translate(473.1 157.5) scale(0.66 1)" font-size="11">61</text><polyline points="472 154.5 463.8 154.5"/><path d="M451.1 148.1 h2.8 v1.6 h-0.6 v3 h-1.6 v-3 h-0.6 Z" class="g" stroke-width="0.8"/><path d="M415.1 193.1 h2.8 v1.6 h-0.6 v3 h-1.6 v-3 h-0.6 Z" class="g" stroke-width="0.8"/><path d="M438 194.6 h2.8 v1.6 h-0.6 v3 h-1.6 v-3 h-0.6 Z" class="g" stroke-width="0.8"/><path d="M431.9 210 L450.6 191.3 C457 186.5 463 183.4 469.4 180 L487.2 169.7 L497.5 173.4 C501 176 503.5 180 505 183.8 C506.5 186.5 507 189 506.9 191.3 C506 195 504.4 197.6 502.2 199.7 L495.6 203.4 L465.6 207.2 C462 207.6 459.5 208.6 457.2 210 C457.4 214 458.4 217.4 460 220.3 L452.5 223.1 L450.6 228.8 L441.3 226.9 L439.4 222.2 L437.5 215.6 Z" class="w" stroke-width="1.05"/><path d="M434.6 211.6 L452 194.2 C458 189.6 464 186.4 470 183.2 L486.6 173.6" stroke-width="0.9"/><path d="M440 214.6 L455.4 198.4 C461 194 467 190.6 473 187.4 L492 177 L497.5 173.4" stroke-width="0.9"/><path d="M457.2 210 C459 203.6 464 199.4 471 196.6 C481 193 492 191.4 502.4 186.6" stroke-width="1"/><path d="M443 218.6 C446 213.6 450 209.6 455.4 206.6 M450.6 228.8 C450 224.6 451.6 221.4 454.6 219.4 M441.3 226.9 C442 222.6 444.6 220 448 218.6" stroke-width="0.9"/><path d="M462 207.8 L495.6 203.4" stroke-width="1.4"/><ellipse cx="498.4" cy="190" rx="0.8" ry="0.7" class="k"/><ellipse cx="438.4" cy="211.2" rx="0.7" ry="0.7" class="k"/><text transform="translate(517.2 190.3) scale(0.66 1)" font-size="11">62</text><polyline points="516 187.4 500 189.4"/><text transform="translate(510.3 172.5) scale(0.66 1)" font-size="11">38(7)</text><polyline points="509 169.5 500.6 169.5"/><path d="M497 167.6 h2.8 v1.6 h-0.6 v3 h-1.6 v-3 h-0.6 Z" class="g" stroke-width="0.8"/><text transform="translate(501.3 209) scale(0.66 1)" font-size="11">63</text><polyline points="500 207.2 486.4 210"/><rect x="483.2" y="207.2" width="1.7" height="8.4" class="w" stroke-width="0.9"/><path d="M478.8 228.8 L487.2 218.4 L492.8 217.1 L508.8 228.8 L507.8 234.4 L499.4 241 L497.4 239.4 L503.4 232.6 L503.6 229.6 L491.6 220.8 L489 221.4 L482.4 230.6 L481 232.6 L478.4 231.4 Z" class="w" stroke-width="1"/><path d="M487.2 218.4 L489 221.4 M508.8 228.8 L503.6 229.6 M482.4 230.6 L484.6 227 L486 228.4 M499.4 241 L501.6 236.4" stroke-width="0.8"/><text transform="translate(509.7 218.4) scale(0.66 1)" font-size="11">64</text><polyline points="508.6 215.8 499.4 220.2"/><path d="M522.7 215.6 h2.8 v1.6 h-0.6 v3 h-1.6 v-3 h-0.6 Z" class="g" stroke-width="0.8"/><path d="M509.6 235.3 h2.8 v1.6 h-0.6 v3 h-1.6 v-3 h-0.6 Z" class="g" stroke-width="0.8"/><path d="M539.8 221.8 h2.8 v1.6 h-0.6 v3 h-1.6 v-3 h-0.6 Z" class="g" stroke-width="0.8"/><path d="M408.8 308 L416.3 298.5 L433.3 283.6 L440.7 272 C441 264 447 259.6 456.6 259.2 C462 259 466 259.8 469.4 261.3 L480 252.8 L505 243.1 L517.5 240 L528.8 246.3 C532 248 533.8 249.6 533.8 251.3 L532.5 253.1 L525 262.5 L523.8 268.8 L525 277.5 L525 288.8 L507.5 296.3 L500.6 292.5 L500.6 283.8 L499.4 296.3 L496.3 292.5 L493.8 287.5 C492 283 489.6 280 486.3 278 L448.1 311.3 L446 315.5 L440.7 324 L438.6 333.6 L406.7 317.6 L407.8 311.3 Z" class="w" stroke-width="1.05"/><path d="M519.4 222.5 L550.6 240 L550.6 244.4 L546.3 248.8 M517.5 239.4 L519.4 222.5" stroke-width="1"/><path d="M520 223.6 L550 240.6" stroke-width="1.9"/><path d="M546.3 248.8 L543.8 265 L528.8 275" stroke-width="1"/><path d="M545 243.1 C536 250 528 264 525.6 280 L525 288.8 L527.5 288.1 L528.8 280 C530 268 537 255 546.3 247.5" class="w" stroke-width="1"/><path d="M524 225.6 v10 M541.6 235 v10" stroke-width="1.6"/><path d="M523.2 229 l0.8 -4 l0.8 4 M540.8 238.4 l0.8 -4 l0.8 4" stroke-width="0.9"/><path d="M500.6 283.8 L503.8 280 L525 277.5 M500.6 283.8 L506.3 285 L525.6 278.4 M506.3 285 L507.5 296.3" stroke-width="0.9"/><path d="M532.5 253.1 L511.3 262.5 L490 271 L474.4 283.6" stroke-width="0.9"/><path d="M504.4 279 L509.6 267 L514.4 277.6 M513.4 273 L518.4 262 L524.4 271" stroke-width="2"/><path d="M506.6 279.4 L510 271 L512.4 277.8 M515.6 273.6 L518.6 266 L522 272" stroke-width="0.9"/><path d="M469.4 261.3 C470.5 263 470.6 265 470 267" stroke-width="0.9"/><path d="M472 259.6 L498.8 246.3 C503 245.4 508 248 510 251.3 C511 252.6 511 253.4 510.6 253.8 L506.3 256.3 L474 268.6" stroke-width="0.9"/><path d="M476 261.6 L498 249.6 C501 249 504.6 250.6 506 252.6 L503 254.4 L478 264.6" stroke-width="0.8"/><path d="M480.6 251.6 l5.6 -2.2 l1 1.6 l-5.6 2.2 Z M498.6 263.4 l5.6 -2.2 l1 1.6 l-5.6 2.2 Z" class="k" stroke-width="0.6"/><path d="M439.6 270 L440 287.5 C443 291.6 449 293.8 455 293.8 C462 293.6 467.6 290 470 285 L474.2 270" class="w" stroke-width="1.05"/><path d="M440 281.9 C443 285.6 449 287.6 453.8 287.5 C462 287.4 469 284.4 472.5 280" stroke-width="0.8"/><ellipse cx="456.9" cy="268.9" rx="17.3" ry="8.6" class="w" stroke-width="1.2"/><ellipse cx="456.6" cy="266.4" rx="10.6" ry="5.6" stroke-width="1"/><ellipse cx="456.6" cy="266.2" rx="8.6" ry="4.4" stroke-width="0.6"/><path d="M467 261.6 l4.4 -1.2 l2 2.6 l-3.6 1.8" stroke-width="1.5"/><path d="M416.9 297.5 L438.6 278.6 M418.6 299 L439.6 280.8 M420.6 300.4 L440 283.6" stroke-width="1.05"/><path d="M432.5 315.6 L455 297.5 L475 287.5 L487.5 279.4 M434.4 317 L456 299.4 L476 289.4 L488.6 281.4 M436.4 318.6 L457.4 301.6 L477 291.4" stroke-width="1.05"/><path d="M416.3 297.5 L410 303.8 L406.3 313.8 L406.9 316.3" stroke-width="1"/><path d="M410 305.6 L413 311 L432.5 320 L436 316 M413.8 318.1 L431.9 328.1 M432.5 320 L431.9 328.1 M413 311 L413.8 318.1" stroke-width="1"/><path d="M415.6 310 L432.5 318.1" stroke="#333" stroke-width="2" stroke-dasharray="0.8 0.7"/><path d="M414.6 314.6 L431.6 323.4" stroke="#2a2a2a" stroke-width="4.2" stroke-dasharray="1.5 1.3"/><path d="M437.6 321 L437.4 331.6 M440.6 325 L437.6 321" stroke-width="0.9"/><path d="M427.5 300 L436.3 290 C437.6 289.4 438.6 290 439.6 291.4 L447.5 296.3 L433.8 310 C431 311 428 310 426.3 307.5 C425.6 305 426 302.6 427.5 300 Z" stroke-width="1"/><path d="M429.6 301 L437 292.6 M445.4 297.6 L433.4 308 C431.4 308.6 429.6 308 428.6 306.4 C428.2 304.6 428.6 302.6 429.6 301" stroke-width="0.8"/><ellipse cx="416.3" cy="303.8" rx="1.9" ry="1.9" class="w" stroke-width="1.2"/><ellipse cx="438.8" cy="316.9" rx="1.9" ry="1.9" class="w" stroke-width="1.2"/><ellipse cx="455.6" cy="300" rx="1.1" ry="1.1" class="w" stroke-width="1"/><path d="M446.3 311.3 L453.8 315 L455 313.8 L495 288.8 M446.9 308.8 L486.3 279.4 L495 286.3" stroke-width="0.9"/><path d="M471.6 296.4 l0.6 -5 l1.6 4" stroke-width="0.9"/><path d="M403.8 328.1 L422.5 337.5 L421.9 340.6 L403.1 331.3 Z" class="w" stroke-width="0.9"/><path d="M404.6 329.8 L421.6 338.6" stroke="#333" stroke-width="1.9" stroke-dasharray="1.4 0.8"/><path d="M470.1 312.3 h2.8 v1.6 h-0.6 v3.6 h-1.6 v-3.6 h-0.6 Z" class="g" stroke-width="0.8"/><path d="M476.9 300.6 h2.8 v1.6 h-0.6 v3.6 h-1.6 v-3.6 h-0.6 Z" class="g" stroke-width="0.8"/><path d="M485.6 303.8 h2.8 v1.6 h-0.6 v3.6 h-1.6 v-3.6 h-0.6 Z" class="g" stroke-width="0.8"/><path d="M454.2 318.7 h2.8 v1.6 h-0.6 v3.6 h-1.6 v-3.6 h-0.6 Z" class="g" stroke-width="0.8"/><path d="M446.7 325 h2.8 v1.6 h-0.6 v3.6 h-1.6 v-3.6 h-0.6 Z" class="g" stroke-width="0.8"/><text transform="translate(488.5 323) scale(0.66 1)" font-size="11">38(5)</text><polyline points="487 318.6 474 315.6"/><text transform="translate(512.3 307) scale(0.66 1)" font-size="11">63</text><polyline points="511 303.5 505 303.5"/><rect x="501.5" y="300.6" width="1.7" height="8.4" class="w" stroke-width="0.9"/><text transform="translate(537.8 282.6) scale(0.66 1)" font-size="11">65</text><polyline points="536.9 278.8 497 276.9"/>
<!-- p_h_handle -->
<path d="M636 362 L574.6 458.6 C569.6 466 567 474 566.8 482 L567 530" stroke="#2b2b2b" stroke-width="7" stroke-linecap="butt"/><path d="M636 362 L574.6 458.6 C569.6 466 567 474 566.8 482 L567 530" stroke="#fff" stroke-width="5.1" stroke-linecap="butt"/><path d="M570.6 326 L508.6 421 C503 430 501.4 437 501.4 444 L501.6 494" stroke="#2b2b2b" stroke-width="7" stroke-linecap="butt"/><path d="M570.6 326 L508.6 421 C503 430 501.4 437 501.4 444 L501.6 494" stroke="#fff" stroke-width="5.1" stroke-linecap="butt"/><path d="M651.4 348 L639.4 374.6" stroke="#2b2b2b" stroke-width="5.6" stroke-linecap="butt"/><path d="M651.4 348 L639.4 374.6" stroke="#fff" stroke-width="3.9" stroke-linecap="butt"/><polyline points="637.4 373.6 641.6 375.6"/><path d="M570.4 315.4 L624.2 231 C627 224 630 216.4 638 213.6 C641 212.6 643.6 213.4 646 214.6 L692 238.6 C700 242.4 706 248 706.6 256 C706.8 262 704 268 700 274 L650.6 349.4" stroke="#2b2b2b" stroke-width="7.6" stroke-linecap="butt"/><path d="M570.4 315.4 L624.2 231 C627 224 630 216.4 638 213.6 C641 212.6 643.6 213.4 646 214.6 L692 238.6 C700 242.4 706 248 706.6 256 C706.8 262 704 268 700 274 L650.6 349.4" stroke="#fff" stroke-width="5.699999999999999" stroke-linecap="butt"/><polyline points="563.6 530.5 570.4 530.5"/><polyline points="498.2 494.5 505 494.5"/><path d="M-3.9 0 L3.9 0" transform="translate(621.6 235) rotate(35)" stroke-width="1"/><path d="M-3.9 0 L3.9 0" transform="translate(663.6 224.2) rotate(117.5)" stroke-width="1"/><path d="M-3.9 0 L3.9 0" transform="translate(684.6 235.4) rotate(117.5)" stroke-width="1"/><path d="M-3.9 0 L3.9 0" transform="translate(699.4 274.6) rotate(33)" stroke-width="1"/><path d="M-3.9 0 L3.9 0" transform="translate(650.4 349.6) rotate(33)" stroke-width="1"/><ellipse cx="669.4" cy="227.6" rx="0.8" ry="0.8" class="k"/><ellipse cx="678.6" cy="232.4" rx="0.8" ry="0.8" class="k"/><path d="M672.6 225.8 l3.6 1.9 l-1 1.9 l-3.6 -1.9 Z" stroke-width="0.7"/><path d="M566.4 310 L574.6 313.6 L554.6 340 L549.6 336.8 Z" class="w" stroke-width="1"/><path d="M570 312 L552 338.4" stroke-width="0.7"/><path d="M632.5 361 L637.5 362.5 L633.4 386 L628.2 383.4 Z" class="w" stroke-width="1"/><ellipse cx="567.5" cy="489" rx="3.4" ry="1" stroke-width="0.9"/><ellipse cx="503.2" cy="471.4" rx="0.7" ry="0.7" class="k"/><polyline points="563.4 486.5 570.4 486.5"/><ellipse cx="567.2" cy="507.1" rx="0.9" ry="0.9" class="k"/><ellipse cx="573.8" cy="509.7" rx="1.2" ry="1" class="k"/><polyline points="569 508 572 509.2" class="t"/><path d="M589 264.7 L598.4 268.4 L594.4 275 L585 271 Z" class="w" stroke-width="0.9"/><path d="M529 370 L538 374 L532.6 383 L523.6 379 Z" class="w" stroke-width="0.9"/><path d="M575 275 L585.3 271.3 L587 279 L577 283 Z" class="w" stroke-width="1"/><path d="M575 275 L577 283 M577 281.4 L586.6 277.6" stroke-width="1.2"/><path d="M516 379.4 L526 378 L527.6 386.6 L518 388.6 Z" class="w" stroke-width="1"/><path d="M518 386.6 L527.2 384.8" stroke-width="1.3"/><text transform="translate(578.8 261) scale(0.66 1)" font-size="11">72(2)</text><polyline points="582.5 262 582.5 271.4"/><text transform="translate(579.7 245) scale(0.66 1)" font-size="11">71</text><polyline points="591 240.5 618 240.5"/><polyline points="575 166.6 597 185" class="t"/><text transform="translate(550.6 166.3) scale(0.66 1)" font-size="11">66</text><polyline points="559.5 164.5 568.4 164.5"/><ellipse cx="572.2" cy="165" rx="3.1" ry="2.8" class="w" stroke-width="1"/><text transform="translate(562.8 178.4) scale(0.66 1)" font-size="11">67</text><polyline points="571 175.4 580 175.2"/><ellipse cx="583.8" cy="174.3" rx="3.2" ry="3.1" class="k"/><ellipse cx="583.8" cy="174.3" rx="1.2" ry="1.1" fill="#888" stroke="none"/><path d="M604 170 L608.6 166.4 L612 168 L611 172 M612 168 L617.6 166 L620 170.6 L617 174 M618 171 L621.6 176 L619 181 L622.6 184 L620 188" stroke-width="1.3"/><path d="M596 170.5 C599 169.8 602 170.4 604 171.5 L614 179 C615.6 180.2 616 181.4 615.5 183 L612 190 C609 196 605 201 600 205 L596.4 208 C594 209 591.6 208.6 590 207 L584.8 202.4 C584 201 584 199.6 584.5 198 L589 184 L594.5 172.5 C595 171.4 595.4 170.8 596 170.5 Z" class="w" stroke-width="1.25"/><path d="M597 173 L612 180 C613 181 613 182 612.5 183 L609 190 C606 195 603 198 599 200 L594 201 C591 200.6 589 199 588 197 L587.5 193 L591 183 L595.6 174 C596 173.2 596.4 173 597 173 Z" stroke-width="0.9"/><path d="M584.6 200 C586 204 589.6 206 593 206 C596 205.6 598.6 204 601 201.6" stroke-width="0.8"/><ellipse cx="599" cy="186.5" rx="4.6" ry="4.7" class="w" stroke-width="1.2"/><ellipse cx="598.8" cy="186.9" rx="3.1" ry="3.2" class="k"/><ellipse cx="599.6" cy="185.8" rx="1.2" ry="1.1" fill="#bbb" stroke="none"/><text transform="translate(572.2 196.3) scale(0.66 1)" font-size="11">68</text><polyline points="581 193.5 593.6 193.5"/><path d="M617 200 l4.4 1.6 l-0.6 6 l-3 -1 l-2 -3 Z" class="k"/><path d="M621 203 l3 1.4 M615.6 199 l-1.6 -0.8" stroke-width="1"/><text transform="translate(602.2 214) scale(0.66 1)" font-size="11">69</text><polyline points="610 211 616.2 205.8"/><text transform="translate(611.6 224.4) scale(0.66 1)" font-size="11">38</text><polyline points="619 217.8 627.2 212.4"/><ellipse cx="628.6" cy="210.8" rx="1.4" ry="1" class="k"/><polyline points="625.4 209.4 627.4 210.4"/><path d="M617 185 L664 221.6" stroke-width="2.6"/><path d="M617 185 L664 221.6" stroke="#fff" stroke-width="1.1"/><path d="M711.4 260 L736.4 278.6" stroke-width="2.4"/><path d="M711.4 260 L736.4 278.6" stroke="#fff" stroke-width="1"/><ellipse cx="685.3" cy="157.3" rx="4.6" ry="4.97" fill="#fff"/><path d="M683.8 153.9 v6.8 h1.6 a1.8 1.8 0 0 0 0 -3.5 h-1.6 m1.6 0 a1.6 1.6 0 0 0 0 -3.3 h-1.6"/><ellipse cx="671" cy="176" rx="4.6" ry="4.97" fill="#fff"/><polyline points="669 179.2 671 172.6 673 179.2"/><polyline points="669.8 177 672.2 177"/><polyline points="688.4 161.6 696 178.4"/><polyline points="675.8 176.6 696 179.8"/><path d="M692.6 171 L696 178.4 M686 178.2 L696 179.8" stroke-width="1.6"/><path d="M696 179 L722 196.2" stroke-width="3.6"/><path d="M696 179 L722 196.2" stroke="#fff" stroke-width="2"/><path d="M709 187.6 l1.6 -2.4" stroke-width="0.8"/><path d="M720 194.6 L728.6 201.4" stroke-width="4.8" stroke="#333"/><path d="M722 196.4 L727 200.2" stroke="#fff" stroke-width="1.6"/><path d="M728 200.6 L746 214.4 M727 202.6 L741 219.6 M729 199.6 L750 210.6 M727.6 201.8 L744 216.6" stroke-width="0.8"/><path d="M751.3 204.7 L762.5 211.3 L747.5 231.9 L737.2 222.5 Z" class="w" stroke-width="1.1"/><path d="M748.6 203.6 L751.3 204.7 L737.2 222.5 L735 220.4 Z M753 208.6 L742 224.4 M757 209.6 L744.6 227.6 M744 216 L754 222 M747.6 211 L757.6 217" stroke-width="0.9"/><text transform="translate(715.6 166.3) scale(0.66 1)" font-size="11">70</text><polyline points="716.6 167.2 703.4 180.3"/><path d="M621.9 254.4 C622.6 250 624.6 248 627.5 246.9 C631 245 634 244.2 636.9 244 L647.2 246 L645.3 248.8 L636 247.8 C633 248 631.6 248.2 630.3 248.8 C627 250 625 252.6 623.8 255.3 Z" class="w" stroke-width="1.1"/><path d="M647 245.4 L651 247 L653.6 245.6 L657 248 L660 246.6 L663.6 249 L666.9 252.5" stroke-width="2.4"/><ellipse cx="651.6" cy="250.4" rx="1.7" ry="1.7" class="k"/><ellipse cx="657.6" cy="251.6" rx="1.5" ry="1.5" class="k"/><ellipse cx="654.6" cy="247" rx="1" ry="1" fill="#fff" stroke="none"/><path d="M664.6 252 L667.6 255.6 L666 261" stroke-width="2.2"/><path d="M665 256.3 C668 259 670.6 262 672.5 265.6 C676 270 678.4 274.6 679 278.8 C679.4 282 679 284.6 678.1 286.3 L672.5 290 L671.6 289 L675.3 282.5 C675 278 674 274.6 672.5 271.3 C670 267 668 264 666 261 Z" class="w" stroke-width="1.1"/><path d="M672.2 289.6 L677.6 286" stroke-width="1.8"/><text transform="translate(621.5 270.3) scale(0.66 1)" font-size="11">73(2)</text><polyline points="633.1 259 645.3 247.8"/><ellipse cx="627.5" cy="279.7" rx="4.6" ry="4.97" fill="#fff"/><path d="M629.1 277.5 a2.2 3.2 0 1 0 0 4.4"/><ellipse cx="617.8" cy="286.8" rx="4.6" ry="4.97" fill="#fff"/><path d="M616.2 283.4 v5.5 a1.6 1.6 0 0 0 3.2 0 v-5.5"/><ellipse cx="649.6" cy="302.2" rx="4.6" ry="4.97" fill="#fff"/><path d="M648.1 298.8 v6.8 h1.6 a1.8 1.8 0 0 0 0 -3.5 h-1.6 m1.6 0 a1.6 1.6 0 0 0 0 -3.3 h-1.6"/><ellipse cx="639.1" cy="310.6" rx="4.6" ry="4.97" fill="#fff"/><polyline points="637.1 313.8 639.1 307.2 641.1 313.8"/><polyline points="637.9 311.6 640.3 311.6"/><polyline points="629.6 284 634 293"/><polyline points="622.2 288.4 631 294.6"/><polyline points="645 301 640.4 298.6"/><polyline points="638.8 306 637 300.6"/><path d="M629.4 295.4 L636 291 L641.6 294.4 L635.6 299.6 Z" class="w" stroke-width="1"/><path d="M636 291 L638.4 288 L641 289.6 L641.6 294.4 M631 297.6 L636 301.6 L639.6 298.4" stroke-width="1.4"/><text transform="translate(615.3 314.4) scale(0.66 1)" font-size="11">74</text><polyline points="621 307 630.2 297.6"/><path d="M699 295.2 L710 297.8" stroke-width="4.4"/><path d="M699.6 295.3 L709.4 297.6" stroke="#fff" stroke-width="2.8"/><ellipse cx="698.9" cy="295.1" rx="1.4" ry="2.1" transform="rotate(15 698.9 295.1)" class="w" stroke-width="0.9"/><ellipse cx="712.4" cy="297" rx="2.8" ry="3.2" class="k"/><path d="M710.6 295 l3.4 4.4 M712 294.4 l2.6 3.6" stroke="#999" stroke-width="0.5"/><text transform="translate(685.6 320) scale(0.66 1)" font-size="11">75</text><polyline points="693.1 309.7 699.7 299.4"/><ellipse cx="718.8" cy="290" rx="1.9" ry="1.9" class="k"/><ellipse cx="716.9" cy="293.8" rx="1.8" ry="1.8" class="k"/><ellipse cx="723.6" cy="292.6" rx="2.2" ry="3" class="w" stroke-width="1.3"/><ellipse cx="722.6" cy="298" rx="1.8" ry="2.2" class="k"/><path d="M706.4 304.6 l4.6 1.4 l0.6 1.8" stroke-width="2.6"/><path d="M711 304.4 l2.4 0.8" stroke-width="1.4"/><text transform="translate(690.3 335.4) scale(0.66 1)" font-size="11">78(4)</text><polyline points="697.5 322.5 706.9 307.8"/><ellipse cx="714.4" cy="310.6" rx="5" ry="2.3" transform="rotate(-14 714.4 310.6)" class="g" stroke-width="1.5"/><ellipse cx="714.4" cy="310.6" rx="3" ry="0.9" transform="rotate(-14 714.4 310.6)" fill="#ddd" stroke="none"/><text transform="translate(711.9 335.4) scale(0.66 1)" font-size="11">79(2)</text><polyline points="720.6 323.8 717 312.6"/><ellipse cx="725" cy="283.2" rx="2.7" ry="2.9" class="w" stroke-width="1.3"/><polyline points="719.4 278.8 722.6 281.4" class="t"/><text transform="translate(737.5 269.4) scale(0.66 1)" font-size="11">76</text><polyline points="738.1 269.6 727 281.2"/><text transform="translate(750 275) scale(0.66 1)" font-size="11">68</text><polyline points="751.9 276 748.2 282.4"/><path d="M731.3 285 L737.5 278.1 L758.1 289.4 L757.5 293.8 L751.3 297.5 L750 302.5 L745 305 L738.8 313.8 L731.3 315 L723.1 310 L723.8 303.8 L727.5 298.8 L726.9 295 L732.5 289.4 Z" class="w" stroke-width="2"/><path d="M733.6 287.6 L752 297.4 M736.4 282 L755.6 292.4 M728.6 297.6 L747 305 M730 302 L736 312 M726 306.6 L732 313 M735 292 L749 300 M740 284.4 L738 290 M746.6 288 L744.6 293.6 M752.4 291.4 L750 296.6 M733 299 L731 303 M740 301 L738 307 M742 307.4 L736.6 310" stroke-width="1.7"/><ellipse cx="739.6" cy="289.4" rx="1.4" ry="1.4" class="k"/><ellipse cx="746" cy="292.6" rx="1.4" ry="1.4" class="k"/><ellipse cx="734" cy="305" rx="1.4" ry="1.4" class="k"/><ellipse cx="741" cy="297.4" rx="1.3" ry="1.3" class="k"/><ellipse cx="733" cy="311" rx="1.2" ry="1.2" fill="#fff" stroke="none"/><ellipse cx="758.1" cy="298.8" rx="1.9" ry="1.7" class="k"/><ellipse cx="765" cy="300.6" rx="1.9" ry="1.7" class="k"/><ellipse cx="752.5" cy="307.5" rx="1.9" ry="1.7" class="k"/><ellipse cx="759.4" cy="310" rx="1.9" ry="1.7" class="k"/><ellipse cx="740.6" cy="316.3" rx="1.9" ry="1.7" class="k"/><ellipse cx="746.9" cy="321.3" rx="1.9" ry="1.7" class="k"/><polyline points="755 297.6 767 301.6" class="t"/><polyline points="749.6 306.4 761.6 310.8" class="t"/><polyline points="738 314.6 748.6 322.6" class="t"/><text transform="translate(743.8 335.4) scale(0.66 1)" font-size="11">38(6)</text><polyline points="746.9 322 748.8 326.2"/><path d="M543.4 313.6 L545 306.4 L549.4 304.2 L551.6 305.6 L549 307.6 L547.6 313.6 Z" class="k"/><ellipse cx="539.6" cy="319.6" rx="4" ry="3.6" class="w" stroke-width="1.3"/><ellipse cx="540.4" cy="320" rx="1.8" ry="1.6" stroke-width="1"/><path d="M535.6 317 L543 314" stroke-width="1.6"/><ellipse cx="528.4" cy="314.4" rx="1.7" ry="1.3" class="w" stroke-width="1"/><polyline points="530 315 536 318" class="t"/><ellipse cx="551" cy="327" rx="2.3" ry="2.3" class="w" stroke-width="1"/><ellipse cx="551" cy="327" rx="1" ry="1" stroke-width="0.8"/><polyline points="543.6 322 562 336" class="t"/><path d="M564 337 L580 345" stroke="#333" stroke-width="2.3" stroke-dasharray="1 0.35"/><ellipse cx="581.6" cy="345.8" rx="1.9" ry="2.2" class="w" stroke-width="1"/><path d="M610 363 L625 370.6" stroke="#333" stroke-width="2.3" stroke-dasharray="1 0.35"/><ellipse cx="609.6" cy="362.8" rx="1.8" ry="2" class="g"/><text transform="translate(620 351.8) scale(0.66 1)" font-size="11">80(2)</text><polyline points="627.5 352.8 618.2 365"/><polyline points="626 371 654 385.4" class="t"/><ellipse cx="639.7" cy="379.4" rx="2.2" ry="2.4" class="w" stroke-width="1.1"/><ellipse cx="639.7" cy="379.4" rx="0.9" ry="1" class="k"/><ellipse cx="648.5" cy="382.2" rx="2.2" ry="2.2" class="k"/><text transform="translate(655 367.4) scale(0.66 1)" font-size="11">81(2)</text><polyline points="663.1 369 651.8 380.4"/><path d="M659.4 384 L662 376.6 L666.6 373.6 L668.4 375.4 L665.6 378 L664 385.4 Z" class="k"/><ellipse cx="657.3" cy="389.2" rx="4.2" ry="3.9" class="w" stroke-width="1.3"/><ellipse cx="657.8" cy="389.6" rx="2" ry="1.8" class="g"/><text transform="translate(690.8 380.4) scale(0.66 1)" font-size="11">82(2)</text><polyline points="689 377.6 668.4 381.8"/><text transform="translate(632.3 405.7) scale(0.66 1)" font-size="11">83(2)</text><polyline points="640.4 398.3 638.8 382"/><text transform="translate(622.5 425.9) scale(0.66 1)" font-size="11">85(2)</text><polyline points="622.5 419.6 603 411.2"/><ellipse cx="571" cy="360" rx="4.6" ry="4.97" fill="#fff"/><path d="M569.4 356.6 v5.5 a1.6 1.6 0 0 0 3.2 0 v-5.5"/><ellipse cx="587" cy="368" rx="4.6" ry="4.97" fill="#fff"/><path d="M588.6 365.8 a2.2 3.2 0 1 0 0 4.4"/><path d="M569.6 364.6 L566.4 370 L567 388 M584.4 372.4 L584 378 L567.6 388.6" stroke-width="1"/><path d="M566.6 376 L567 388 M578 382 L567.6 388.6" stroke-width="1.7"/><path d="M567 388.6 L549 424" stroke-width="3.4"/><path d="M567 388.6 L549 424" stroke="#fff" stroke-width="1.9"/><path d="M567 388.6 L549 424" stroke-width="0.5"/><path d="M549 424 L536 437 L531.6 444.4 M549 424 L547 442 L543 450.6" stroke-width="1"/><path d="M549 424 L538.6 434.4 M549 424 L547.4 438" stroke-width="1.7"/><ellipse cx="529.2" cy="448.6" rx="4.6" ry="4.97" fill="#fff"/><polyline points="530.8 445.5 527.5 445.5 527.5 452"/><polyline points="527.8 448.6 530.2 448.6"/><ellipse cx="541.3" cy="455" rx="4.6" ry="4.97" fill="#fff"/><polyline points="542.9 451.5 539.5 451.5 539.5 458.4"/><polyline points="539.9 455 542.3 455"/><text transform="translate(567 425) scale(0.66 1)" font-size="11">84</text><polyline points="566 420.4 557 413"/><path d="M519 472.2 L529.4 471.4" stroke-width="4.2"/><path d="M519.6 472.1 L527.4 471.5" stroke="#fff" stroke-width="2.6"/><ellipse cx="518.8" cy="472.2" rx="1.3" ry="2" class="w" stroke-width="0.9"/><path d="M529 469 V474.4" stroke-width="1.6"/><text transform="translate(539.6 483) scale(0.74 1)" font-size="13.5">93</text><polyline points="530.6 472.6 538 476.4"/><path d="M538 476.4 l-2.6 -0.2 l1.2 -1.8 Z" class="k"/>
<!-- p_i_bag -->
<polyline points="672 430 694 422.5 771.5 422.5 771.5 621.5 677.6 621.5"/><polyline points="708 440.5 771.1 440.5"/><polyline points="696 488.5 771.1 488.5"/><polyline points="714 506.5 771.1 506.5"/><polyline points="771.1 521.5 776 521.5"/><rect x="747.6" y="416" width="11.4" height="12" fill="#fff" stroke="none"/><rect x="747.6" y="434" width="11.4" height="12" fill="#fff" stroke="none"/><rect x="751.6" y="500" width="11.4" height="12" fill="#fff" stroke="none"/><text transform="translate(749.1 425.8) scale(0.66 1)" font-size="11">87</text><text transform="translate(749.1 443.6) scale(0.66 1)" font-size="11">88</text><text transform="translate(753.3 510.5) scale(0.66 1)" font-size="11">90</text><text transform="translate(778 525.4) scale(0.66 1)" font-size="11">203</text><polyline points="603.4 495.8 614.6 499.2 613.8 493.4" class="t"/><path d="M651 431 C651 427 653 423.6 656.6 421.6 L677 414 C680.6 413 683 415 682.8 419.6" stroke="#262626" stroke-width="5.6" stroke-linecap="round"/><path d="M651 431 C651 427 653 423.6 656.6 421.6 L677 414 C680.6 413 683 415 682.8 419.6" stroke="#6a6a6a" stroke-width="2.2" stroke-dasharray="1.2 0.8"/><text transform="translate(702 411) scale(0.66 1)" font-size="11">86</text><polyline points="700 408.4 684.6 415.6"/><path d="M663 431.6 L668 429.4 L671.6 430.6 L667 433 Z" class="k"/><path d="M640 454 L656 445 L674 437 C680 434 685 432.6 690 432 C695 431.6 699 432.6 702 434 L718 441 C724 444 728 447.6 730 451 C732.6 454 734 456 734 458 L733 465 L718 473 L690 482 L678 486 L650 496 L644 500 L640 492 L637 488 L611 477 L610 488 L608 480 L606 471 L633 457 Z" class="w" stroke-width="1.05"/><path d="M730 455 C722 459 716 461.6 710 464 L670 480 L646 490 M733 461 L712 470 L672 484.6 L645 496" stroke-width="0.9"/><path d="M607 475.3 L636.3 485 M610 479.8 L635.5 488.8 M611 477 L613 486" stroke-width="0.9"/><path d="M606.3 473 L634 457.3 M607 476.8 L635.5 460.3 M609.6 473.6 L633 460.2" stroke-width="1.1"/><path d="M636.3 482.8 L670 469.3 M637.8 486.5 L673 473 M640 483.6 L668 472.4" stroke-width="1.1"/><path d="M634 457.3 L668.5 470 M640 454 L676 466" stroke-width="0.9"/><path d="M612 472.6 L632 461.4 M642 483.6 L664 474.8" stroke="#444" stroke-width="1.6" stroke-dasharray="3 1.6"/><ellipse cx="634.8" cy="457.3" rx="2.6" ry="1.9" class="w" stroke-width="1.3"/><ellipse cx="668.5" cy="470.8" rx="2.8" ry="2" class="w" stroke-width="1.3"/><ellipse cx="643.6" cy="481.6" rx="2.2" ry="1.5" class="w" stroke-width="1.1"/><ellipse cx="607.6" cy="481" rx="1.1" ry="1.1" class="k"/><path d="M601.8 480.6 l4.6 1.4 M609 480 L609.6 487 M606.6 477 L608 488" stroke-width="1.4"/><path d="M659 452.4 L684 442 C689 440.6 693 441.6 698 445 L706 449 C708 450.4 708 452 705 453.4 L686 458 C680 459.4 675 459.6 670 458 L660.6 455.4 C658 454.6 657.6 453.4 659 452.4 Z" stroke-width="1.1"/><path d="M664 452.6 L685 444.4 C689 443.4 692 444.2 695.6 446.4 L700 449 C701.6 450 701 451 699 451.6 L684 455.4 C679 456.6 676 456.4 672 455.4 L665 453.6 Z" stroke-width="0.9"/><ellipse cx="696" cy="445.6" rx="2.2" ry="1.3" stroke-width="1"/><path d="M673 435.6 L673 438.6 A7 3.4 0 0 0 687 438.6 L687 435.6" class="w" stroke-width="1"/><ellipse cx="680" cy="435.6" rx="7" ry="3.4" class="w" stroke-width="1"/><ellipse cx="680.6" cy="435.2" rx="3.6" ry="1.6" stroke-width="0.8"/><path d="M644 500 L646 506 L658 505 L700 489 M646 506 L649 509.6 M655.4 505.6 l3 1.6" stroke-width="0.9"/><ellipse cx="650.4" cy="509" rx="1.1" ry="1.1" class="k"/><ellipse cx="658.4" cy="507.6" rx="1" ry="1" class="k"/><path d="M623.6 539.6 L645 528.4 C650 525 653 522 655.1 519.4 L659.6 513.8 L674.3 503.6 C682 498 688 495.4 694.5 494.6 C700 494 706 495.4 712.5 498 L735 508.1 C741 511 745 514 746.3 517.1 L747.4 521.6 L744 547.5 L742.9 575.6 L712.5 583.5 L678.8 588 L665.3 590.3 L663 590.3 L637.1 579 L636 577.9 L629.3 567.8 L624.8 545.3 Z" class="w" stroke-width="1.1"/><path d="M625 541.6 L646 530.4 C651 527 654.4 524 656.6 521 L661 515.4 L675.4 505.4 C683 500 689 497.4 695 496.8 C700 496.4 706 497.6 712 500 L734 510 C740 512.6 743.6 515.6 745 518.4" stroke-width="1.5"/><path d="M660.8 557.6 L678.8 550.9 L712.5 539.6 C722 536 730 532 735 528.4 C740 525 744 522.4 746.3 520.5" stroke-width="1"/><path d="M663 559.4 L680 553 L713 542 C723 538.4 731 534.6 736 531" stroke-width="0.7"/><path d="M660.8 557.6 L661.9 565.5 L665.3 590.3 M669.8 561 L675.4 588 M666 558 L671.6 588.6" stroke-width="0.9"/><path d="M631.5 540.8 L639.4 570 M628 542.6 L636 573.4 L654 568.9 L659.6 564.4 M639.4 570 L655 566" stroke-width="0.9"/><path d="M637.1 579 L663 590.3" stroke-width="2.4"/><path d="M637.6 579.2 L662.4 590" stroke="#fff" stroke-width="0.9"/><ellipse cx="636.8" cy="578.8" rx="1.5" ry="1.3" class="w" stroke-width="0.9"/><ellipse cx="663.6" cy="590.4" rx="1.5" ry="1.3" class="w" stroke-width="0.9"/><path d="M624.8 553.1 L628.6 551.6 L632.4 567.4 L630 568.9 Z" class="w" stroke-width="0.8"/><path d="M626.7 552.4 L631.2 568.2" stroke="#444" stroke-width="3.4" stroke-dasharray="0.6 0.9"/><path d="M659.6 567.8 L663.4 566.4 L667.4 582.4 L665.3 583.5 Z" class="w" stroke-width="0.8"/><path d="M661.5 567 L666.3 583" stroke="#444" stroke-width="3.4" stroke-dasharray="0.6 0.9"/><polyline points="603.4 495.8 630.4 594.8 636 597" class="t"/><polyline points="642.8 500.3 650.6 508.1 659.6 513.8 685.5 617.3 666.4 609.4" class="t"/><path d="M638.3 584.6 L639.4 597 L648.4 634.1 L681 648.8 L683.3 646.5 L673.1 612.8 L672.7 599.3" stroke-width="2.3"/><path d="M638.3 584.6 L639.4 597 L648.4 634.1 L681 648.8 L683.3 646.5 L673.1 612.8 L672.7 599.3" stroke="#fff" stroke-width="0.8"/><ellipse cx="639.4" cy="597" rx="1.1" ry="1.1" class="k"/><ellipse cx="673" cy="612.6" rx="1.1" ry="1.1" class="k"/>
<!-- p_j_circuit -->
<text transform="translate(43 570.6) scale(0.93 1)" font-size="11.5" word-spacing="5" fill="#444">Electric circuit</text><g style="stroke-width:.6"><rect x="26" y="580.6" width="32.4" height="50.4"/><polyline points="13 588.5 29 588.5"/><polyline points="13 622.5 29 622.5"/><polyline points="16 586.5 22 586.5"/><polyline points="16 624.5 22 624.5"/><polyline points="54.6 588.5 108 588.5"/><polyline points="54.6 622.5 108 622.5"/><polyline points="75.5 588.4 75.5 622"/><polyline points="119 588.5 125 588.5"/><polyline points="119 622.5 125 622.5"/><polyline points="136.6 588.5 141 588.5"/><polyline points="136.6 622.5 141 622.5"/><polyline points="149 588.4 149.5 588.4 149.5 594.6"/><polyline points="149 622 149.5 622 149.5 615.6"/><polyline points="38 588.4 40 587.4 42 588.4" stroke-dasharray="1 0.8"/><polyline points="42.5 589 42.5 622" stroke-dasharray="2.4 1.4"/><polyline points="38 622 42 621"/><path d="M125 588.4 a1.9 1.9 0 0 1 3.8 0 a1.9 1.9 0 0 1 3.8 0 a1.9 1.9 0 0 1 3.8 0"/><path d="M125 622 a1.9 1.9 0 0 1 3.8 0 a1.9 1.9 0 0 1 3.8 0 a1.9 1.9 0 0 1 3.8 0"/><ellipse cx="149.6" cy="605" rx="5" ry="5.2"/><polyline points="73.4 604.5 77.8 604.5"/><polyline points="73.4 605.5 77.8 605.5"/></g><path d="M29 588.4 h4" stroke-width="1.6"/><ellipse cx="34.2" cy="588.4" rx="1.1" ry="1.1" class="w" stroke-width="0.7"/><path d="M54.6 588.4 h-4" stroke-width="1.6"/><ellipse cx="49.4" cy="588.4" rx="1.1" ry="1.1" class="w" stroke-width="0.7"/><path d="M29 622 h4" stroke-width="1.6"/><ellipse cx="34.2" cy="622" rx="1.1" ry="1.1" class="w" stroke-width="0.7"/><path d="M54.6 622 h-4" stroke-width="1.6"/><ellipse cx="49.4" cy="622" rx="1.1" ry="1.1" class="w" stroke-width="0.7"/><path d="M108 588.4 h4" stroke-width="1.6"/><ellipse cx="113.2" cy="588.4" rx="1.1" ry="1.1" class="w" stroke-width="0.7"/><path d="M108 622 h4" stroke-width="1.6"/><ellipse cx="113.2" cy="622" rx="1.1" ry="1.1" class="w" stroke-width="0.7"/><path d="M141 588.4 h4" stroke-width="1.6"/><ellipse cx="146.2" cy="588.4" rx="1.1" ry="1.1" class="w" stroke-width="0.7"/><path d="M141 622 h4" stroke-width="1.6"/><ellipse cx="146.2" cy="622" rx="1.1" ry="1.1" class="w" stroke-width="0.7"/><rect x="148.2" y="594.6" width="2.8" height="5" class="k"/><rect x="148.2" y="610.6" width="2.8" height="5" class="k"/><text transform="translate(148 607.4) scale(0.8 1)" font-size="5.6" font-weight="bold">M</text><text transform="translate(20 582.6) scale(0.8 1)" font-size="6">2</text><text transform="translate(60.4 586.6) scale(0.8 1)" font-size="6">1</text><text transform="translate(20.4 631.6) scale(0.8 1)" font-size="6">4</text><text transform="translate(60.4 631.6) scale(0.8 1)" font-size="6">3</text><text transform="translate(77.6 603.4) scale(0.8 1)" font-size="4.6">C</text><text transform="translate(126.6 583.4) scale(0.72 1)" font-size="5" font-weight="bold">WS1</text><text transform="translate(126.6 617.2) scale(0.72 1)" font-size="5" font-weight="bold">WS2</text><path d="M16.4 605.6 c-2 -1.6 -3 1 -1.4 2.6 c1.6 1.6 0.6 4.2 -1.4 2.6" stroke-width="0.8" transform="rotate(90 15 607.6)"/>

</g></svg>
</body></html>
